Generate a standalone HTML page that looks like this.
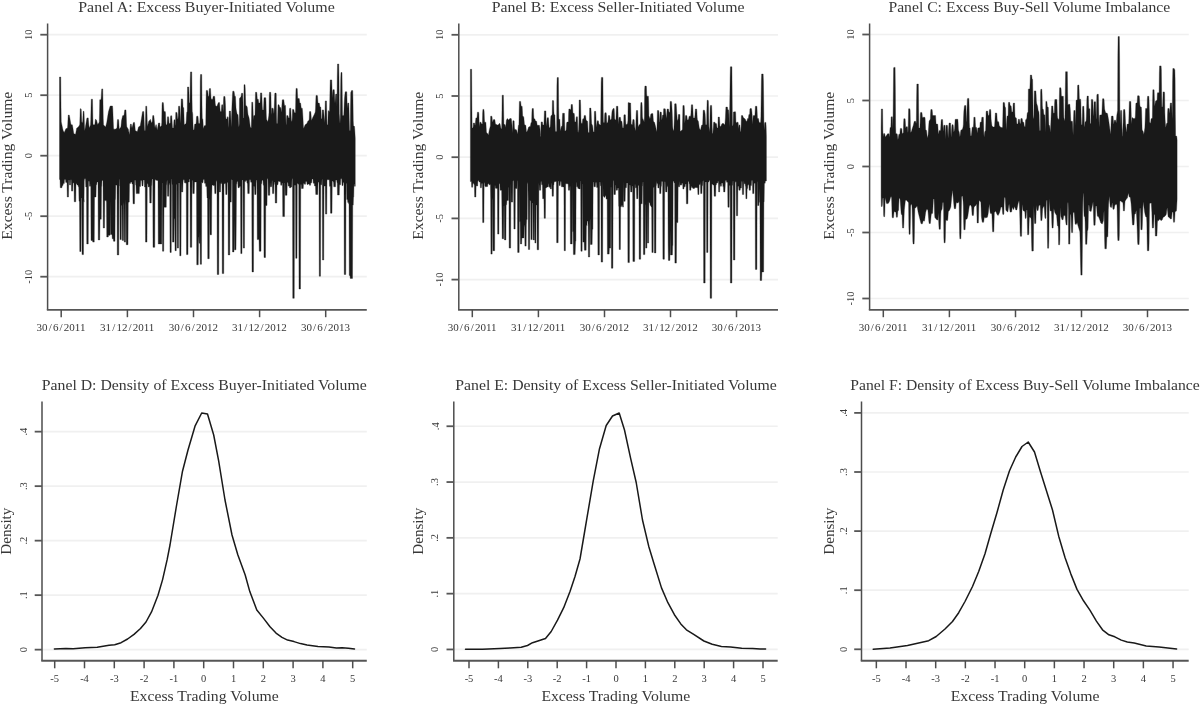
<!DOCTYPE html>
<html><head><meta charset="utf-8"><title>Excess trading volume panels</title>
<style>
html,body{margin:0;padding:0;background:#fff;}
svg{display:block;font-family:"Liberation Serif",serif;}
</style></head><body>
<svg width="1200" height="705" viewBox="0 0 1200 705">
<rect width="1200" height="705" fill="#fff"/>
<line x1="47.6" x2="366.8" y1="34.70" y2="34.70" stroke="#f0f0f0" stroke-width="1.7"/>
<line x1="47.6" x2="366.8" y1="95.20" y2="95.20" stroke="#f0f0f0" stroke-width="1.7"/>
<line x1="47.6" x2="366.8" y1="155.70" y2="155.70" stroke="#f0f0f0" stroke-width="1.7"/>
<line x1="47.6" x2="366.8" y1="216.20" y2="216.20" stroke="#f0f0f0" stroke-width="1.7"/>
<line x1="47.6" x2="366.8" y1="276.70" y2="276.70" stroke="#f0f0f0" stroke-width="1.7"/>
<path d="M59.5,77 60.75,77 61,105.2 61.25,121.9 61.5,123.1 61.75,124.2 62,125.4 62.25,126.6 62.5,127.8 62.75,128.9 63,130.1 63.25,130.8 63.5,131.3 63.75,131.8 64,132.3 64.25,132.5 64.5,131.9 64.75,131.3 65,130.8 65.25,130.2 65.5,129.6 65.75,129 66,128.6 66.25,128.6 66.5,128.5 66.75,128.4 67,128.3 67.25,128.2 67.5,128.1 67.75,124.5 68,118.8 68.25,115.1 69.25,115.1 69.5,116.2 69.75,117.6 70,119 70.25,120.5 70.5,121.9 70.75,123.3 71,124.7 72.25,124.7 72.5,125.6 72.75,127.1 73,128.6 73.25,130.2 73.5,131.7 73.75,133.2 74,133.8 74.25,133.9 74.5,134 74.75,134.1 75,134.2 75.25,134.3 75.5,134.3 75.75,133.2 76,131.8 76.25,130.4 76.5,129.1 76.75,128.1 77,127.9 77.25,127.7 77.5,127.6 77.75,127.4 78,127.2 78.25,127.1 78.5,126.8 78.75,126.3 79,125.9 79.25,125.5 79.5,125.1 79.75,124.3 80,115.6 80.25,108.8 81,108.8 81.25,109.7 81.5,115.7 81.75,121.7 82,122.4 82.5,122.4 82.75,121 83,114.8 83.25,111.3 84,111.3 84.25,118.3 84.5,127.2 84.75,130.7 85,129.2 85.25,127.7 85.5,126.2 85.75,124.7 86,123.2 86.25,121.7 86.5,120.2 86.75,118.7 87,117.9 88.25,117.9 88.5,120.7 88.75,123.5 89,126.3 89.25,127.9 89.5,127.3 89.75,126.7 90,126.2 90.25,125.6 90.5,125 90.75,119.6 91,108.3 91.25,99.2 92.5,99.2 92.75,113 93,124.7 94.75,124.7 95,123.1 95.25,120.6 95.5,119.1 95.75,119.4 96,119.6 96.25,119.9 96.5,120.1 96.75,121 97,122 97.25,123 97.5,124 97.75,124.6 98,124.2 98.25,123.7 98.5,123.3 98.75,122.9 99,122.5 99.25,122.1 99.5,113.8 99.75,99.7 101,99.7 101.25,96.5 101.5,91.7 101.75,88.9 102.75,88.9 103,102.7 103.25,118.5 103.5,124.9 103.75,125.1 104,125.4 104.25,125.6 104.5,125.9 104.75,126.1 105,126.4 105.25,126.6 105.5,126.9 105.75,126.4 106,125.4 106.25,124.4 106.5,123.4 106.75,122.4 107,120.9 107.25,119.3 107.5,117.7 107.75,116.1 108,114.5 108.25,113 108.5,111.5 108.75,110.7 109,109.8 109.25,109 109.5,108.2 109.75,107.3 110,106.5 110.25,106 112.5,106 112.75,108.4 113,114.8 113.25,121.2 113.5,127.6 113.75,129.2 115.25,129.2 115.5,129.1 115.75,128.9 116,128.8 116.25,128.6 116.5,128.4 116.75,128.3 117,127.5 117.25,122.8 117.5,119.6 118.5,119.6 118.75,120.9 119,125.2 119.25,129.2 119.5,128.9 119.75,128.6 120,128.2 120.25,127.9 120.5,127.6 120.75,127.2 121,126.3 121.25,123.6 121.5,120.8 121.75,119.6 122,118.5 122.25,117.4 122.5,116.3 122.75,115.6 124,115.6 124.25,113.6 124.5,111.5 124.75,109.9 126,109.9 126.25,115.7 126.5,123 126.75,126.6 127,127 127.25,127.5 127.5,127.9 127.75,128.3 128,128.7 128.25,129.1 128.5,130.1 128.75,131.4 129,132.6 129.25,133.9 129.5,134.4 129.75,131.4 130,128.4 130.25,125.5 130.5,124.1 131.25,124.1 131.5,125.5 131.75,126.9 132,127.9 132.25,127 132.5,126 132.75,125 133,124.1 133.25,123.1 133.5,122.4 134.5,122.4 134.75,124.4 135,127.1 135.25,129.8 135.5,131 135.75,131.1 136,131.1 136.25,131.2 136.5,131.3 136.75,131.3 137,131.4 137.25,131.5 137.5,131.1 137.75,130.1 138,129.1 138.25,128.1 138.5,127.1 138.75,126.8 139,126.7 139.25,126.5 139.5,126.3 139.75,126.2 140,126 140.25,125.8 140.5,124.3 140.75,122.8 141,121.3 141.25,119.8 141.5,118.2 141.75,116.6 142,115 142.25,113.3 142.5,111.7 142.75,111.6 143.75,111.6 144,115.9 144.25,124.2 144.5,130.4 145.25,130.4 145.5,119.5 145.75,106.2 146.75,106.2 147,112.7 147.25,121.9 147.5,126.5 147.75,125.5 148,124.4 148.25,123.4 148.5,122.3 148.75,121.3 149,121 149.25,120.7 149.5,120.4 149.75,120.1 150,119.8 150.25,119.5 150.5,119.4 150.75,120.4 151,121.4 151.25,122.4 152,122.4 152.25,121.3 152.5,118.3 152.75,115.6 153.75,115.6 154,117.2 154.25,119.9 154.5,122.7 154.75,125.4 155,128.1 155.25,127.2 155.5,126.3 155.75,125.5 156,124.6 156.25,124.8 156.5,126.2 156.75,127.5 157,128.9 157.25,130.3 157.5,128.8 157.75,127.2 158,125.6 158.25,124 158.5,123 159.75,123 160,127 160.25,126.8 160.5,126.6 160.75,126.5 161,126.3 161.25,126.1 161.5,126 161.75,122.6 162,105.5 162.25,102.6 163.25,102.6 163.5,104.1 163.75,108.1 164,111.6 165.25,111.6 165.5,113.1 165.75,120.3 166,124.7 167,124.7 167.25,121 167.5,116.8 168.5,116.8 168.75,118.6 169,122.4 169.25,123.6 170,123.6 170.25,122.8 170.5,117.1 170.75,115.8 171.75,115.8 172,119.4 172.25,123.9 172.5,128.1 173.5,128.1 173.75,123.4 174,119.8 174.75,119.8 175,120.2 175.25,125.4 175.5,124.6 175.75,112.4 177,112.4 177.25,115 177.5,117.9 177.75,119 178,119 178.25,115.7 178.5,106.3 178.75,106.2 179.75,106.2 180,110.9 180.25,119.6 180.5,123.5 180.75,115 181,106.6 181.25,98.9 182.5,98.9 182.75,100.2 183,106.6 183.25,107.7 183.75,107.7 184,115.8 184.25,124.7 184.5,124.5 184.75,124.4 185,124.2 185.25,124.1 185.5,123.9 185.75,123.8 186,123.6 186.25,120.7 186.5,115.7 186.75,112.2 187,112.2 187.25,111.3 187.5,87 188.75,87 189,93 189.25,101.9 189.5,103.1 190,103.1 190.25,79.7 190.5,71.9 191.75,71.9 192,97.7 192.25,112.2 192.5,112.2 192.75,114.5 193,123.8 193.25,129.4 193.5,129.7 193.75,130 194,130.3 194.25,128.2 194.5,125.4 194.75,124.1 196,124.1 196.25,121.4 196.5,117.1 196.75,116.2 198,116.2 198.25,119.1 198.5,122.4 198.75,123.6 199.75,123.6 200,117 200.25,81 200.5,74.5 201.75,74.5 202,104.1 202.25,118.6 202.5,118.7 202.75,118.9 203,121.1 203.25,126.8 203.5,128.7 203.75,127.8 204,126.8 204.25,125.9 204.5,125.7 204.75,125.6 205,125.6 205.25,125.5 205.5,125.4 205.75,124.8 206,105.6 206.25,90.4 207.5,90.4 207.75,91.2 208,93.8 208.25,96.3 209,96.3 209.25,89 209.5,88.6 210.5,88.6 210.75,93.1 211,97.7 211.25,99.2 212.75,99.2 213,97.3 213.25,96.3 214.5,96.3 214.75,96.8 215,100.2 215.25,103.5 215.5,105.5 215.75,105.7 216,105.9 216.25,106.1 216.5,106.3 216.75,106.5 217,106 217.25,105.4 217.5,104.8 217.75,104.2 218,103.6 218.25,103 218.5,102.6 219.5,102.6 219.75,105.1 220,109.1 220.25,111.6 221.25,111.6 221.5,107.5 221.75,104.8 222.75,104.8 223,109.2 223.25,112 223.5,99.7 223.75,96.5 225,96.5 225.25,100.6 225.5,105.7 225.75,115.7 226,119 226.75,119 227,118.8 227.25,117.2 227.5,116.8 228,116.8 228.25,117.7 228.5,125.2 228.75,127.7 229,119.2 229.25,111.1 230.5,111.1 230.75,114.8 231,121 231.25,127.3 231.5,120.3 231.75,111.3 232,104.6 232.25,99.4 232.5,94.2 232.75,91.2 234,91.2 234.25,92.4 234.5,94.6 234.75,96.3 235.25,96.3 235.5,96.7 235.75,102.2 236,107.7 236.25,109.8 236.5,111.1 236.75,112.3 237,113.6 237.25,114.5 238,114.5 238.25,117.8 238.5,123 238.75,126.4 239,126.4 239.25,123.7 239.5,98.5 239.75,98.2 240,97.9 240.25,97.5 240.5,97.2 240.75,96.9 241,96.5 241.25,95.5 241.5,93.3 242.75,93.3 243,103.4 243.25,117.9 243.75,117.9 244,84.7 245,84.7 245.25,89.1 245.5,98.2 245.75,105.4 246,105.6 246.25,105.8 246.5,106 246.75,106.2 247,106.4 247.25,107.3 247.5,109.8 247.75,112.3 248,114.6 248.25,115.3 248.5,116.1 248.75,116.8 249,117.6 249.25,119.1 249.5,121.1 249.75,123.1 250,125.1 250.25,127 250.5,127.2 250.75,127.5 251,127.7 251.25,128 251.5,118.5 251.75,102.2 252.75,102.2 253,107.4 253.25,116.1 253.5,120.3 253.75,115.7 254,115.6 255,115.6 255.25,102.2 255.5,92.3 256.75,92.3 257,95 257.25,98.8 257.5,99.2 258.25,99.2 258.5,100.9 258.75,103.1 260,103.1 260.25,99 260.5,92.9 261.75,92.9 262,98.4 262.25,105.9 262.5,109.9 263.5,109.9 263.75,103.7 264,97.7 265.75,97.7 266,102.3 266.25,114 266.5,119.3 266.75,119.8 267,120.3 267.25,120.7 267.5,121.2 267.75,121.7 268,120.8 268.25,119.1 268.5,117.5 268.75,115.9 269,112.3 269.25,96.1 269.5,92.3 270.75,92.3 271,97.8 271.25,112.4 271.5,114.7 271.75,108.2 273,108.2 273.25,108.8 273.5,110.8 273.75,112.7 274,113.8 274.25,107 274.5,100.3 274.75,93.6 275,93.1 276,93.1 276.25,93.8 276.5,116.1 276.75,123.6 277.25,123.6 277.5,123.2 277.75,112.9 278,104.8 279,104.8 279.25,105.5 279.5,106.5 279.75,107.2 280,107.3 280.25,107.4 280.5,107.5 280.75,107.7 281,109.8 281.25,112.3 281.5,111.1 281.75,107.4 282,103.6 282.25,99.9 282.5,99.7 283.75,99.7 284,101.2 284.25,103.7 284.5,105.4 285.5,105.4 285.75,113.4 286,123.4 286.25,125.2 286.5,119.7 286.75,115.6 287.75,115.6 288,115.9 288.25,116.9 288.5,117.9 289.25,117.9 289.5,109.2 289.75,108.2 290.75,108.2 291,113.5 291.25,119.2 291.5,121.3 292,121.3 292.25,117.2 292.5,109.4 293.75,109.4 294,110.4 294.25,111.9 294.5,112.8 295.5,112.8 295.75,97.7 296,88.4 297,88.4 297.25,88.6 297.5,94.2 297.75,98.6 299.25,98.6 299.5,100.7 299.75,103.1 300.5,103.1 300.75,104.1 301,106.3 301.25,108.2 302.25,108.2 302.5,110.5 302.75,114.2 303,118.5 303.25,123.7 303.5,128.6 303.75,128.1 304,127.5 304.25,126.9 304.5,126.3 304.75,125.7 305,125.1 305.25,124.7 305.5,124.5 305.75,124.3 306,124.2 306.25,124 306.5,123.8 306.75,123.7 307,123.3 307.25,122.7 307.5,122 307.75,121.4 308,120.8 308.25,120.7 309,120.7 309.25,118.3 309.5,111.7 309.75,111.6 310.75,111.6 311,113.8 311.25,117.8 311.5,120.6 311.75,119.9 312,119.3 312.25,118.7 312.5,118.1 312.75,117.5 313,117 313.25,116.5 313.5,116 313.75,115.5 314,115 314.25,114.5 314.5,113.9 314.75,113.3 315,112.7 315.25,112 315.5,108.9 315.75,101.7 316,95.4 317.25,95.4 317.5,96.1 317.75,99.5 318,102.9 318.25,103.1 319.25,103.1 319.5,104 319.75,105.8 320,107.1 320.75,107.1 321,111 321.25,117.6 321.5,119 321.75,119 322,118.5 322.25,109.9 323.5,109.9 323.75,112 324,115 324.25,117.8 324.5,120.3 324.75,122.8 325,111.8 325.25,100.9 326.5,100.9 326.75,112.6 327,124.7 327.75,124.7 328,117.7 328.25,110.6 328.5,110.8 328.75,111 329,111.2 329.25,111.4 329.5,111.6 329.75,102.8 330,88.8 330.25,79.9 331.75,79.9 332,87.5 332.25,98 332.5,94.7 332.75,91.5 333,89.7 334.25,89.7 334.5,93.4 334.75,99.8 335,103.2 335.25,99.4 335.5,95.7 335.75,94.1 336.75,94.1 337,107 337.25,77.3 337.5,64 338.75,64 339,78.6 339.25,113.5 339.5,116.9 339.75,120.4 340,123.8 340.25,117.8 340.5,98.2 340.75,78.6 341,72.5 342,72.5 342.25,94.4 342.5,115.6 343.75,115.6 344,109.5 344.25,102.5 344.5,98.2 344.75,95.7 345,93.2 345.25,91.8 346.75,91.8 347,99.6 347.25,108.2 347.5,105.7 347.75,103.2 348,103.1 348.75,103.1 349,108.5 349.25,120.5 349.5,130.4 350.25,130.4 350.5,107.8 350.75,92.5 351,91.9 351.25,91.3 351.5,90.6 352.75,90.6 353,101.5 353.25,120.8 353.5,125.9 353.75,126 354,126.1 354.25,126.3 354.5,126.4 354.75,129.6 355,133.9 355.25,138.2 L355.25,186.3 354.5,186.3 354.25,183.9 354,183.9 353.75,197 353.5,197 353.25,205.1 352.75,205.1 352.5,278.4 350.25,278.4 350,275.4 349.25,275.4 349,203.9 348.75,203.9 348.5,202.5 347.75,202.5 347.5,199.5 346.75,199.5 346.5,183.5 346,183.5 345.75,274.5 344.25,274.5 344,182.4 343.25,182.4 343,185.6 342,185.6 341.75,178.8 340.75,178.8 340.5,184.8 339.5,184.8 339.25,195 337.5,195 337.25,182.8 337,182.8 336.75,180.1 335.75,180.1 335.5,186.8 333.75,186.8 333.5,181.9 333.25,181.9 333,181 332.25,181 332,213.2 330.5,213.2 330.25,186.3 329.5,186.3 329.25,179.7 328.25,179.7 328,179.8 327,179.8 326.75,214.1 325.5,214.1 325.25,186.1 324.5,186.1 324.25,186 324,186 323.75,260 322.5,260 322.25,179.3 322,179.3 321.75,184.8 320.75,184.8 320.5,276.2 319.25,276.2 319,182 318.25,182 318,184.1 317.75,194.5 315.75,194.5 315.5,186 314.5,186 314.25,183.2 313.25,183.2 313,178.9 312,178.9 311.75,182.8 311,182.8 310.75,183.4 310.5,185.3 309.5,185.3 309.25,183.9 308.25,183.9 308,184.4 307,184.4 306.75,181.4 305.75,181.4 305.5,184.3 304.5,184.3 304.25,183.5 303.5,183.5 303.25,188.5 301.5,188.5 301.25,184.5 300.75,184.5 300.5,289 299,289 298.75,184.3 298.25,184.3 298,183.4 297.25,183.4 297,258.3 295.75,258.3 295.5,185.2 294.5,185.2 294.25,298.3 292.75,298.3 292.5,178.7 292,178.7 291.75,186.9 291,186.9 290.75,187.7 289.5,187.7 289.25,186.1 288.25,186.1 288,182.4 287.25,182.4 287,195.3 285.25,195.3 285,183.1 284.75,183.1 284.5,216.6 282.75,216.6 282.5,182.9 282,182.9 281.75,185.2 280.75,185.2 280.5,181.8 279.5,181.8 279.25,181.3 278.25,181.3 278,184.7 277,184.7 276.75,203 275.25,203 275,182.1 274.5,182.1 274.25,184.4 274,184.4 273.75,193.6 272.5,193.6 272.25,180.7 272,180.7 271.75,185.9 271.5,186.8 270.25,186.8 270,182.2 269.75,195.3 268.25,195.3 268,178.8 267.25,178.8 267,205.5 265.75,205.5 265.5,257.5 264,257.5 263.75,185.2 263.25,185.2 263,180.2 262,180.2 261.75,183.7 261.25,183.7 261,251.2 259.25,251.2 259,239.6 257.25,239.6 257,183.2 256.75,179.9 256.25,179.9 256,194.5 254.75,194.5 254.5,187.2 254.25,186.2 253.75,186.2 253.5,271.9 252,271.9 251.75,182.2 250.75,182.2 250.5,179.8 249.5,179.8 249.25,193.6 247.75,193.6 247.5,183.2 247,183.2 246.75,180.6 245.75,180.6 245.5,181.6 244.75,181.6 244.5,248.1 243.25,248.1 243,179.9 242.25,179.9 242,253.6 240.75,253.6 240.5,186.6 239.5,186.6 239.25,187.7 238,187.7 237.75,181.5 237,181.5 236.75,184.3 236.5,184.3 236.25,221 236,249.8 234.5,249.8 234.25,217.7 234,251.9 232.5,251.9 232.25,180.1 232,180.1 231.75,179.4 231.5,179.4 231.25,202.1 230,202.1 229.75,254.9 228.25,254.9 228,182.4 227.25,182.4 227,194.5 225.75,194.5 225.5,183.6 224.5,183.6 224.25,183.9 224,183.9 223.75,273.6 222.25,273.6 222,181.4 221.75,183.5 220.75,183.5 220.5,191.9 219.25,191.9 219,181.6 218.75,274.5 217.25,274.5 217,182.8 216.75,180.8 216.25,180.8 216,193.6 214.75,193.6 214.5,185.6 213.25,185.6 213,185 212,185 211.75,196.2 211.5,234.8 210,234.8 209.75,199.5 209.5,199.5 209.25,258.7 207.75,258.7 207.5,197.9 207,197.9 206.75,186.5 205.75,186.5 205.5,183.3 204.5,183.3 204.25,179.5 203.25,179.5 203,182.8 202,182.8 201.75,181.6 201.5,264.3 200.25,264.3 200,231 199.75,243.2 199,243.2 198.75,237.3 198.5,237.3 198.25,264.8 196.75,264.8 196.5,181.9 195.75,181.9 195.5,182 194.5,182 194.25,193.6 192.75,193.6 192.5,180.4 192,180.4 191.75,247.3 190.25,247.3 190,178.9 189.5,178.9 189.25,182 188.25,182 188,254.6 186.5,254.6 186.25,183.2 185.75,183.2 185.5,182.8 184.5,182.8 184.25,179.8 183.25,179.8 183,182.9 182.75,191.9 181.5,191.9 181.25,180.4 181,255.8 179.75,255.8 179.5,183.4 179.25,183.1 178.75,183.1 178.5,248.1 177.25,248.1 177,184.4 176.5,184.4 176.25,250.7 175,250.7 174.75,218.8 174.25,218.8 174,242.1 172.5,242.1 172.25,184.4 172,184.4 171.75,179.1 171.5,179.1 171.25,252.4 170,252.4 169.75,184.7 169.5,184.7 169.25,183.3 169,183.3 168.75,196.2 167.5,196.2 167.25,180.5 167,180.5 166.75,184.7 166.5,184.7 166.25,207.2 164,207.2 163.75,251.2 162.5,251.2 162.25,182.9 162,182.9 161.75,243.9 158.25,243.9 158,180.5 157,180.5 156.75,180.3 155.75,180.3 155.5,179.4 155,179.4 154.75,247.3 153,247.3 152.75,179.1 152,179.1 151.75,185.4 151.5,185.4 151.25,203 149.75,203 149.5,185.4 149.25,186.9 148.25,186.9 148,183.8 147.25,183.8 147,242.1 145.5,242.1 145.25,186.9 144.5,186.9 144.25,180.1 143.25,180.1 143,185.9 142,185.9 141.75,180.4 140.75,180.4 140.5,186.5 139.5,186.5 139.25,193.6 136.25,193.6 136,185 135.75,185 135.5,180.2 134.75,180.2 134.5,203.8 133,203.8 132.75,183.9 132,183.9 131.75,182.1 130.75,182.1 130.5,183.4 129.5,183.4 129.25,202.1 128.5,202.1 128.25,203.8 128,244.7 126.25,244.7 126,199.2 125.75,205.5 125.5,242.1 124.25,242.1 124,205.2 123.75,202.2 123.5,240.4 122.25,240.4 122,205.2 121.75,205.5 121.5,205.5 121.25,239.6 120,239.6 119.75,185.9 119.5,185.9 119.25,179.6 119,179.6 118.75,254.9 117.25,254.9 117,186.1 116.75,185.1 115.75,185.1 115.5,198.7 115.25,200.4 115,241.3 113.5,241.3 113.25,238.7 112.25,238.7 112,234.5 110.5,234.5 110.25,199.9 110,235.3 108.5,235.3 108.25,237 106.75,237 106.5,202.5 106.25,200.4 104.75,200.4 104.5,228 103.25,228 103,180.4 102,180.4 101.75,186.6 101.5,186.6 101.25,219.2 100,219.2 99.75,239.9 98.25,239.9 98,181.9 97,181.9 96.75,184.7 96.25,184.7 96,197 94.5,197 94.25,242.1 92.75,242.1 92.5,240.4 91,240.4 90.75,183.6 90.5,186.2 89.5,186.2 89.25,181.3 88.5,181.3 88.25,243.9 86.75,243.9 86.5,186.9 85.75,186.9 85.5,178.7 84.5,178.7 84.25,181.2 84,202.1 83.75,199.3 83.5,254.6 82,254.6 81.75,197.9 81.25,197.9 81,251.5 79.75,251.5 79.5,201.2 79,201.2 78.75,186.8 78.25,186.8 78,184.9 77,184.9 76.75,183.7 76,183.7 75.75,201.8 74.25,201.8 74,183.1 73.25,183.1 73,182 72.75,191.1 71.5,191.1 71.25,179.7 70.75,179.7 70.5,184.9 69.5,184.9 69.25,180 68.75,180 68.5,197 67.25,197 67,182.7 66.75,182.4 65.75,182.4 65.5,179.5 64.5,179.5 64.25,183.6 63.25,183.6 63,185.5 62.25,185.5 62,187.7 60.25,187.7 60,179.4 59.5,179.4Z" fill="#191919" stroke="#191919" stroke-width="0.35" stroke-linejoin="miter"/>
<path d="M47.6 23.6 V309.9" fill="none" stroke="#4d4d4d" stroke-width="1.5"/>
<path d="M46.85 309.9 H366.8" fill="none" stroke="#565656" stroke-width="1.9"/>
<line x1="40.300000000000004" x2="47.6" y1="34.70" y2="34.70" stroke="#565656" stroke-width="1.8"/>
<text x="32.3" y="34.7" font-size="10.5" text-anchor="middle" fill="#383838" transform="rotate(-90 32.3 34.7)">10</text>
<line x1="40.300000000000004" x2="47.6" y1="95.20" y2="95.20" stroke="#565656" stroke-width="1.8"/>
<text x="32.3" y="95.2" font-size="10.5" text-anchor="middle" fill="#383838" transform="rotate(-90 32.3 95.2)">5</text>
<line x1="40.300000000000004" x2="47.6" y1="155.70" y2="155.70" stroke="#565656" stroke-width="1.8"/>
<text x="32.3" y="155.7" font-size="10.5" text-anchor="middle" fill="#383838" transform="rotate(-90 32.3 155.7)">0</text>
<line x1="40.300000000000004" x2="47.6" y1="216.20" y2="216.20" stroke="#565656" stroke-width="1.8"/>
<text x="32.3" y="216.2" font-size="10.5" text-anchor="middle" fill="#383838" transform="rotate(-90 32.3 216.2)">-5</text>
<line x1="40.300000000000004" x2="47.6" y1="276.70" y2="276.70" stroke="#565656" stroke-width="1.8"/>
<text x="32.3" y="276.7" font-size="10.5" text-anchor="middle" fill="#383838" transform="rotate(-90 32.3 276.7)">-10</text>
<line x1="61.2" x2="61.2" y1="309.9" y2="317.2" stroke="#4d4d4d" stroke-width="1.5"/>
<text x="61.0" y="331.3" font-size="11" text-anchor="middle" fill="#383838">30<tspan dx="1.15">/</tspan><tspan dx="1.15">6</tspan><tspan dx="1.15">/</tspan><tspan dx="1.15">2011</tspan></text>
<line x1="127.4" x2="127.4" y1="309.9" y2="317.2" stroke="#4d4d4d" stroke-width="1.5"/>
<text x="127.2" y="331.3" font-size="11" text-anchor="middle" fill="#383838">31<tspan dx="1.15">/</tspan><tspan dx="1.15">12</tspan><tspan dx="1.15">/</tspan><tspan dx="1.15">2011</tspan></text>
<line x1="193.5" x2="193.5" y1="309.9" y2="317.2" stroke="#4d4d4d" stroke-width="1.5"/>
<text x="193.3" y="331.3" font-size="11" text-anchor="middle" fill="#383838">30<tspan dx="1.15">/</tspan><tspan dx="1.15">6</tspan><tspan dx="1.15">/</tspan><tspan dx="1.15">2012</tspan></text>
<line x1="259.6" x2="259.6" y1="309.9" y2="317.2" stroke="#4d4d4d" stroke-width="1.5"/>
<text x="259.40000000000003" y="331.3" font-size="11" text-anchor="middle" fill="#383838">31<tspan dx="1.15">/</tspan><tspan dx="1.15">12</tspan><tspan dx="1.15">/</tspan><tspan dx="1.15">2012</tspan></text>
<line x1="325.7" x2="325.7" y1="309.9" y2="317.2" stroke="#4d4d4d" stroke-width="1.5"/>
<text x="325.5" y="331.3" font-size="11" text-anchor="middle" fill="#383838">30<tspan dx="1.15">/</tspan><tspan dx="1.15">6</tspan><tspan dx="1.15">/</tspan><tspan dx="1.15">2013</tspan></text>
<text x="206.5" y="11.7" font-size="14.5" text-anchor="middle" fill="#383838" textLength="256.5" lengthAdjust="spacingAndGlyphs">Panel A: Excess Buyer-Initiated Volume</text>
<text x="11.8" y="165.7" font-size="14.5" text-anchor="middle" fill="#383838" textLength="148" lengthAdjust="spacingAndGlyphs" transform="rotate(-90 11.8 165.7)">Excess Trading Volume</text>
<line x1="458.8" x2="778" y1="34.80" y2="34.80" stroke="#f0f0f0" stroke-width="1.7"/>
<line x1="458.8" x2="778" y1="96.00" y2="96.00" stroke="#f0f0f0" stroke-width="1.7"/>
<line x1="458.8" x2="778" y1="157.20" y2="157.20" stroke="#f0f0f0" stroke-width="1.7"/>
<line x1="458.8" x2="778" y1="218.40" y2="218.40" stroke="#f0f0f0" stroke-width="1.7"/>
<line x1="458.8" x2="778" y1="279.60" y2="279.60" stroke="#f0f0f0" stroke-width="1.7"/>
<path d="M470.4,69.3 471.65,69.3 471.9,105.4 472.15,128.1 472.9,128.1 473.15,126.7 473.4,123 474.4,123 474.65,123.6 474.9,124.9 475.15,125.3 475.4,122.8 475.65,120.3 475.9,117.9 476.9,117.9 477.15,115.8 477.4,112.2 478.65,112.2 478.9,114.2 479.15,123 479.4,127 479.65,124.4 479.9,122.2 480.9,122.2 481.15,122.7 481.4,123.6 481.65,124.1 482.4,124.1 482.65,112.7 482.9,109.4 483.9,109.4 484.15,111.8 484.4,118.9 484.65,122.2 485.65,122.2 485.9,122.6 486.15,127.2 486.4,131.8 486.65,132.8 486.9,133 487.15,133.2 487.4,133.4 487.65,133.6 487.9,134.1 488.15,134.8 488.4,135.3 488.65,133.8 488.9,132.2 489.15,130.7 489.4,129.4 489.65,128.5 489.9,127.7 490.15,126.8 490.4,125.9 490.65,116.2 491.9,116.2 492.15,118.1 492.4,121.6 492.65,121.9 492.9,121.2 493.15,120.5 493.4,119.8 493.65,119.6 494.65,119.6 494.9,120 495.15,122 495.4,124 495.65,124.2 495.9,124.3 496.15,124.4 496.4,124.5 496.65,124.6 496.9,124.7 497.15,124.8 497.4,125 497.65,125.1 497.9,125.2 498.15,125.1 498.4,124.7 498.65,124.3 498.9,124 499.15,123.6 499.9,123.6 500.15,124.5 500.4,125.8 500.65,127 500.9,128.2 501.15,128.5 501.4,128.8 501.65,129.1 501.9,116.3 502.15,95.2 503.4,95.2 503.65,110.2 503.9,124.2 504.15,124.3 504.4,124.4 504.65,124.5 504.9,124.6 505.15,124.7 505.4,126 505.65,127.5 505.9,125.9 506.15,122.4 506.4,120 506.65,119.7 506.9,119.3 507.15,118.9 507.4,118.5 507.65,118.8 507.9,119.1 508.15,119.5 508.4,119.9 508.65,120.1 508.9,119.8 509.15,119.4 509.4,119.1 509.65,118.8 509.9,118.5 511.15,118.5 511.4,119.3 511.65,121.6 511.9,123.9 512.15,128 512.4,133 512.65,127.8 512.9,120.7 513.9,120.7 514.15,120.9 514.4,127.2 514.65,129.3 514.9,129.4 515.15,129.4 515.4,129.5 515.65,129.6 515.9,129.6 516.15,129.7 516.4,129.8 516.65,130.3 516.9,131.3 517.15,132.3 517.4,133.3 517.65,134.3 517.9,131.2 518.15,127.8 518.4,125.3 518.9,125.3 519.15,112 519.4,101.4 520.65,101.4 520.9,103.9 521.15,106.3 522.15,106.3 522.4,110.6 522.65,116.1 522.9,116.3 523.15,116.4 523.4,116.6 523.65,116.7 523.9,118 524.15,120.9 524.4,123.9 524.65,124.8 524.9,124.9 525.15,125 525.4,125.1 525.65,125.2 525.9,126 526.15,128.7 526.4,131.4 526.65,132.3 526.9,131.8 527.15,131.2 527.4,130.7 527.65,130 527.9,129.3 528.15,128.5 528.4,127.8 528.65,127 528.9,126.9 529.15,126.8 529.4,126.7 529.65,126.6 529.9,126.6 530.15,126.5 530.4,126.2 530.65,124.7 530.9,123.2 531.15,122.7 531.4,122.3 531.65,122 531.9,112.3 532.15,108.6 533.4,108.6 533.65,114.7 533.9,118.5 534.15,118.6 534.4,118.8 534.65,118.9 534.9,119 535.15,119.9 535.4,120.7 535.65,120.9 535.9,121 536.15,121.1 536.4,121.2 536.65,121.5 536.9,123.3 537.15,125 537.4,125.3 539.4,125.3 539.65,126.7 539.9,128.6 540.15,130.7 540.4,136 540.65,137.6 540.9,127.6 541.15,121.9 542.4,121.9 542.65,123.7 542.9,125.2 543.15,125.1 543.4,125 543.65,124.9 543.9,124.7 544.15,118.4 544.4,110.9 545.9,110.9 546.15,122.2 546.4,126.6 546.65,123.7 546.9,120.8 547.15,117.9 547.4,117.7 548.4,117.7 548.65,119.8 548.9,124.4 549.15,128.1 549.4,127.8 549.65,127.6 549.9,127.3 550.15,127.1 550.4,123.9 550.65,119.1 550.9,116.1 551.15,115.8 551.4,115.4 551.65,115.1 551.9,114.8 552.15,114.5 552.4,100.6 553.4,100.6 553.65,100.9 553.9,111.2 554.15,114.7 554.65,114.7 554.9,115 555.15,124.3 555.4,131.5 556.65,131.5 556.9,86 557.15,77.6 558.4,77.6 558.65,106.8 558.9,119.3 559.65,119.3 559.9,119.6 560.15,126.4 560.4,131.2 560.65,130 560.9,128.7 561.15,127.5 561.4,126.4 561.65,126.2 561.9,126 562.15,125.8 562.4,116.9 562.65,113.3 564.4,113.3 564.65,122.2 564.9,131.3 565.15,131.1 565.4,130.9 565.65,130.7 565.9,130.5 566.15,130.1 566.4,126.5 566.65,122.9 566.9,122.2 567.15,122.1 567.4,122.1 567.65,122 567.9,122 568.15,121.9 568.4,121.8 568.65,112.4 568.9,109 569.9,109 570.15,109.4 570.9,109.4 571.15,104.5 572.4,104.5 572.65,107.5 572.9,112.4 573.15,113.3 574.15,113.3 574.4,115 574.65,119.7 574.9,121.9 575.9,121.9 576.15,118.1 576.4,116.8 577.4,116.8 577.65,122.7 577.9,132.1 578.15,132.5 578.4,130.9 578.65,129.4 578.9,122.3 579.15,100 580.4,100 580.65,104.7 580.9,117.4 581.15,123.1 581.4,123.2 581.65,123.3 581.9,123.4 582.15,123.5 582.4,122.1 582.65,119.5 582.9,118.8 583.65,118.8 583.9,118.3 584.15,115.8 584.4,115.4 585.4,115.4 585.65,116.2 585.9,118.3 586.15,120.2 586.4,120.4 586.65,120.6 586.9,120.8 587.15,121 587.4,121.1 587.65,122.4 587.9,127.4 588.15,132.4 588.4,132.6 589.15,132.6 589.4,121.4 589.65,108.1 590.9,108.1 591.15,112.2 591.4,119 591.65,123.7 591.9,124.2 592.15,124.7 592.4,125.2 592.65,125.7 592.9,128 593.15,130.8 593.4,132.1 594.15,132.1 594.4,111.7 594.65,111.3 595.65,111.3 595.9,115.3 596.15,122.7 596.4,127.6 596.65,125.5 596.9,123.5 597.15,121.5 597.4,120.7 598.15,120.7 598.4,120.9 598.65,122.4 598.9,123.9 599.15,124.3 599.4,124.4 599.65,124.6 599.9,124.8 600.15,124.9 600.4,125.1 600.65,125 600.9,103.9 601.15,82.8 601.4,77.4 602.9,77.4 603.15,108.2 603.4,122.4 604.15,122.4 604.4,122.2 604.65,115.1 604.9,112.8 606.15,112.8 606.4,114.6 606.65,120.6 606.9,123.4 607.15,123.1 607.4,122.7 607.65,122.4 607.9,122 608.15,119.6 608.4,115.6 609.65,115.6 609.9,117.3 610.15,119.8 610.4,120 610.65,119.7 610.9,119.5 611.15,119.3 611.4,119.1 611.65,115.9 611.9,112.4 612.15,110.7 612.4,110.2 612.65,109.6 612.9,109.1 613.15,108.6 614.15,108.6 614.4,112.6 614.65,119.1 614.9,119.3 615.15,119.5 615.4,119.7 615.65,119.9 615.9,120.1 616.15,112.9 616.4,106.3 617.9,106.3 618.15,116.4 618.4,124.2 618.65,121.5 618.9,118.8 619.15,117.3 620.4,117.3 620.65,118.9 620.9,121.3 621.9,121.3 622.15,123.3 622.4,126.3 622.65,128.1 623.4,128.1 623.65,125.2 623.9,115.3 624.15,114.7 625.15,114.7 625.4,114.9 625.65,120.4 625.9,124.7 626.15,124.6 626.4,124.5 626.65,124.4 626.9,124.3 627.15,124.2 627.4,123.7 627.65,122.5 627.9,120.4 628.15,102.6 628.4,102.6 628.65,102.7 628.9,102.7 629.15,102.8 629.4,102.8 629.65,102.9 629.9,103 630.15,103 630.4,103.1 630.65,103.1 630.9,113.5 631.15,123.7 631.4,124.1 631.65,124.4 631.9,124.8 632.15,125.2 632.4,123.6 632.65,121.5 632.9,119.6 633.9,119.6 634.15,119.8 634.4,123.1 634.65,126.3 634.9,128 635.15,129.2 635.4,130.5 635.65,130.2 635.9,122.5 636.15,114.8 636.4,110.5 637.65,110.5 637.9,117.1 638.15,126.9 638.4,126.4 638.65,125.9 638.9,125.4 639.15,124.9 639.4,124.6 639.65,124.5 639.9,124.4 640.15,124.2 640.4,122.5 640.65,106.7 640.9,102.6 641.9,102.6 642.15,105.8 642.4,117.1 642.65,118.4 642.9,118.9 643.15,119.4 643.4,119.9 643.65,120.4 643.9,121.2 644.15,121.9 644.4,116.8 644.65,90.1 644.9,86.1 646.15,86.1 646.4,86.4 646.65,93.9 646.9,96.3 648.4,96.3 648.65,102.2 648.9,115.7 649.15,116.4 649.4,117.2 649.65,117.9 649.9,118.7 650.15,118.2 650.4,116.6 650.65,115 650.9,113.9 651.15,113.8 651.4,113.8 651.65,113.7 651.9,113.6 652.15,113.5 652.4,113.5 652.65,113.4 652.9,113.9 653.15,117.4 653.4,120.9 653.65,121.5 653.9,121.8 654.15,122 654.4,122.3 654.65,122.8 654.9,123.8 655.15,124.8 655.4,125.8 655.65,126.8 655.9,128 656.15,129.2 656.4,130.5 656.65,131.7 656.9,130 657.15,120.3 657.4,110.5 658.65,110.5 658.9,111.5 659.15,121.9 659.4,121.8 659.65,117.8 659.9,113.8 660.15,112 661.15,112 661.4,112.7 661.65,119.5 661.9,119.8 662.15,117.9 662.4,115.9 662.65,115.1 663.4,115.1 663.65,108.8 665.15,108.8 665.4,109.3 665.65,111.8 665.9,114.3 666.15,116.4 666.4,118.4 666.65,116.1 666.9,111.7 667.15,109 668.4,109 668.65,109.9 668.9,111.7 669.15,112.2 669.65,112.2 669.9,111.6 670.15,101.4 671.4,101.4 671.65,102.5 671.9,106.7 672.15,111 672.4,118.4 672.65,125.9 672.9,128.6 673.15,129.4 673.4,130.1 673.65,130.9 673.9,130.3 674.15,122.8 674.4,115.3 674.65,103.9 674.9,103.7 676.15,103.7 676.4,106.6 676.65,111.3 676.9,115.1 677.15,118.6 677.4,120.2 677.9,120.2 678.15,118.6 678.4,114.5 679.9,114.5 680.15,131.4 680.4,131.2 680.65,131.1 680.9,130.9 681.15,130.7 681.4,130.6 681.65,130.4 681.9,130.1 682.15,129.7 682.4,129.4 682.65,118.6 682.9,105.6 684.15,105.6 684.4,109.4 684.65,120.2 684.9,123.3 685.15,119.7 685.4,116.1 685.65,115.4 686.65,115.4 686.9,116.1 687.15,118.2 687.4,120.1 687.65,120 687.9,119.9 688.15,119.8 688.4,119.6 688.65,118.8 688.9,117.3 689.15,116.2 690.65,116.2 690.9,113.9 691.15,108.9 691.4,104.8 692.65,104.8 692.9,109.1 693.15,114.9 693.4,117.9 694.65,117.9 694.9,115.6 695.15,111.7 695.4,109 696.65,109 696.9,111.4 697.15,117.2 697.4,119.8 697.65,120.2 697.9,120.6 698.15,120.9 698.4,121.4 698.65,123.3 698.9,125.1 699.15,127 699.4,128.3 699.65,128.8 699.9,129.3 700.15,129.8 700.4,130.3 700.65,129.4 700.9,128.3 701.15,127.1 701.4,126 701.65,125.2 701.9,125.1 702.15,125 702.4,124.8 702.65,124.7 702.9,118.3 703.15,110.3 703.4,110.2 704.4,110.2 704.65,111 704.9,112.6 705.15,114.2 705.4,119 705.65,124.6 705.9,124.7 706.65,124.7 706.9,108.5 707.15,100.3 708.15,100.3 708.4,101.6 708.65,115.7 708.9,126.4 709.15,128.2 709.4,130.1 709.65,132 709.9,123 710.15,108 710.4,105.4 711.65,105.4 711.9,112.5 712.15,127.5 712.4,132.9 712.65,133.3 712.9,133.8 713.15,129.8 713.4,125.6 713.65,122.2 714.9,122.2 715.15,122.8 715.4,123.5 715.65,123.6 716.4,123.6 716.65,124.6 716.9,127.1 717.15,128.1 717.9,128.1 718.15,117.1 719.4,117.1 719.65,120.3 719.9,125.8 720.15,126.8 720.4,126.5 720.65,126.3 720.9,126 721.15,125.7 721.4,125.1 721.65,124.4 721.9,123.8 722.15,123.6 723.65,123.6 723.9,123.9 724.15,124.2 724.4,124.6 724.65,125 724.9,124.4 725.15,121.2 725.4,117.9 725.65,112 725.9,107.1 727.4,107.1 727.65,108.4 727.9,109.9 728.65,109.9 728.9,114.5 729.15,126.9 729.4,118.7 729.65,110.4 729.9,94.8 730.15,76.6 730.4,66.8 731.9,66.8 732.15,95.2 732.4,125.8 732.9,125.8 733.15,124.1 733.4,112 733.65,111.9 734.15,111.9 734.4,111.8 734.9,111.8 735.15,111.7 735.4,111.7 735.65,112.7 735.9,121.5 736.15,123.2 736.4,122.8 736.65,122.4 736.9,122.2 737.9,122.2 738.15,122.6 738.4,125.7 738.65,128.8 738.9,126.5 739.15,124.9 739.9,124.9 740.15,128.1 740.4,131.5 740.9,131.5 741.15,125.7 741.4,115.6 742.65,115.6 742.9,116.2 743.15,116.9 743.4,117.5 743.65,117.9 743.9,118.1 744.15,118.3 744.4,118.4 744.65,118.6 744.9,118.8 745.15,118.9 745.4,119.4 745.65,120.1 745.9,120.8 746.15,121.3 746.9,121.3 747.15,120.4 747.4,119.1 747.65,118.5 748.4,118.5 748.65,116.1 748.9,114.5 749.65,114.5 749.9,109.1 750.15,108.6 751.4,108.6 751.65,109.8 751.9,111.9 752.15,114.8 752.4,119.8 752.65,124.6 752.9,120.6 753.15,116.6 753.4,115.6 754.9,115.6 755.15,110.8 755.4,106.3 756.9,106.3 757.15,111.4 757.4,118.1 757.65,118.5 758.4,118.5 758.65,119.2 758.9,120.9 759.15,122.4 760.65,122.4 760.9,116.5 761.15,98.7 761.4,81 761.65,74 763.15,74 763.4,80.6 763.65,99.9 763.9,123.6 764.15,130.3 764.4,126.6 764.65,122.8 764.9,122.4 765.9,122.4 766.15,126.7 766.4,136.4 L766.4,180.9 765.4,180.9 765.15,183.3 764.4,183.3 764.15,201.7 763.9,201.7 763.65,271.9 761.9,271.9 761.65,280.5 760.15,280.5 759.9,202.3 759.4,202.3 759.15,188.2 758.9,205.5 757.65,205.5 757.4,181.7 757.15,181.7 756.9,269.4 755.4,269.4 755.15,183.2 754.15,183.2 753.9,193.6 752.65,193.6 752.4,180.6 751.65,180.6 751.4,185.6 750.65,185.6 750.4,190.2 749.15,190.2 748.9,184.8 747.9,184.8 747.65,188.6 747.15,188.6 746.9,198.7 745.9,198.7 745.65,186.2 745.4,186.2 745.15,183.7 744.15,183.7 743.9,180.6 743.65,194.5 742.4,194.5 742.15,181.6 741.65,181.6 741.4,188 740.4,188 740.15,190.2 738.9,190.2 738.65,186.3 737.9,186.3 737.65,215.8 736.4,215.8 736.15,181.8 735.4,181.8 735.15,182.9 734.9,260 733.4,260 733.15,181.1 732.9,181.1 732.65,185.3 732.15,185.3 731.9,283 730.4,283 730.15,185.5 729.4,185.5 729.15,207.2 727.9,207.2 727.65,182.3 726.65,182.3 726.4,180.6 725.4,180.6 725.15,187.2 724.9,191.9 723.65,191.9 723.4,186.6 722.9,186.6 722.65,183.1 721.65,183.1 721.4,186.2 720.4,186.2 720.15,184 719.9,184 719.65,191.9 718.65,191.9 718.4,181.2 717.9,181.2 717.65,183 716.65,183 716.4,184.7 715.9,184.7 715.65,196.2 714.15,196.2 713.9,185.1 712.9,185.1 712.65,184.1 711.9,184.1 711.65,298.3 710.15,298.3 709.9,180.5 709.15,180.5 708.9,182 708.15,182 707.9,252.4 706.65,252.4 706.4,181.9 705.4,181.9 705.15,283 703.65,283 703.4,180.8 702.9,180.8 702.65,185.5 702.15,185.5 701.9,193.6 700.65,193.6 700.4,181.8 700.15,184.5 699.15,184.5 698.9,194.5 697.9,194.5 697.65,187.7 696.65,187.7 696.4,187.4 695.4,187.4 695.15,187.8 694.65,187.8 694.4,188.5 692.9,188.5 692.65,187.5 691.65,187.5 691.4,186.1 691.15,186.1 690.9,190.2 689.65,190.2 689.4,184 689.15,184 688.9,181.5 688.15,181.5 687.9,203.8 686.4,203.8 686.15,184.1 685.4,184.1 685.15,186.7 684.15,186.7 683.9,189 682.9,189 682.65,183.3 681.9,183.3 681.65,185.1 680.15,185.1 679.9,181 679.65,186.8 678.4,186.8 678.15,184 677.9,222.6 676.65,222.6 676.4,263.1 674.9,263.1 674.65,182.9 674.15,182.9 673.9,181.2 673.15,181.2 672.9,245.6 672.65,245.6 672.4,254.9 670.4,254.9 670.15,229.5 669.9,260.4 668.4,260.4 668.15,245 667.9,185 667.65,186.5 667.15,186.5 666.9,191.9 665.65,191.9 665.4,188.7 665.15,181.7 664.65,181.7 664.4,259.2 662.9,259.2 662.65,181.5 661.65,181.5 661.4,186.3 661.15,186.3 660.9,193.6 659.65,193.6 659.4,184.5 659.15,184.5 658.9,188 657.9,188 657.65,183.4 656.9,183.4 656.65,181 656.4,185.6 656.15,185.6 655.9,252.9 654.4,252.9 654.15,186.5 653.9,187.6 653.4,187.6 653.15,252.4 651.9,252.4 651.65,207.1 651.15,207.1 650.9,205.5 650.15,205.5 649.9,202.8 649.15,202.8 648.9,201.4 648.65,243 647.4,243 647.15,200.4 646.9,248.1 645.65,248.1 645.4,204.8 645.15,204.8 644.9,254.6 643.4,254.6 643.15,182.1 642.9,182.1 642.65,186 642.4,186 642.15,203.8 640.9,203.8 640.65,259.2 639.15,259.2 638.9,185.5 638.15,185.5 637.9,198.7 636.65,198.7 636.4,187.8 635.4,187.8 635.15,184.5 634.9,184.5 634.65,261.4 632.9,261.4 632.65,185.9 632.15,185.9 631.9,191.9 630.65,191.9 630.4,187.2 630.15,185 629.65,185 629.4,262.6 627.9,262.6 627.65,183.1 626.65,183.1 626.4,187.7 625.4,187.7 625.15,201.3 623.9,201.3 623.65,181 623.4,207.1 622.65,207.1 622.4,205.5 621.65,205.5 621.4,206.8 620.65,206.8 620.4,249.5 619.15,249.5 618.9,206.3 618.65,206.3 618.4,188.1 617.9,188.1 617.65,188.4 617.4,190.2 616.15,190.2 615.9,184.9 615.65,184.9 615.4,194.5 613.9,194.5 613.65,180.8 613.15,180.8 612.9,268.2 611.4,268.2 611.15,187.2 610.9,187.2 610.65,248.1 609.4,248.1 609.15,254.1 607.4,254.1 607.15,198.8 606.9,199.1 606.15,199.1 605.9,195.8 605.15,195.8 604.9,197.3 604.15,197.3 603.9,196.2 603.15,196.2 602.9,181 602.65,262.1 601.15,262.1 600.9,185.8 600.4,185.8 600.15,182 599.65,182 599.4,254.9 597.9,254.9 597.65,187.4 596.65,187.4 596.4,182.6 595.65,182.6 595.4,186.8 593.9,186.8 593.65,182 593.15,182 592.9,229.3 592.4,229.3 592.15,244.4 590.4,244.4 590.15,218.2 589.9,221.4 589.65,257 588.4,257 588.15,226 587.9,221 587.15,221 586.9,225.7 586.65,225 586.4,225 586.15,250.2 584.4,250.2 584.15,242.1 582.9,242.1 582.65,183.9 582.4,183.9 582.15,251.2 580.9,251.2 580.65,181 580.4,181 580.15,188.9 579.15,188.9 578.9,188.5 577.9,188.5 577.65,186.8 576.9,186.8 576.65,186.7 576.4,182.5 576.15,182.5 575.9,241.1 575.65,241.1 575.4,246.1 575.15,254.6 573.4,254.6 573.15,231.6 572.65,231.6 572.4,181.4 572.15,243.9 570.4,243.9 570.15,186.5 569.9,186.5 569.65,190.2 568.4,190.2 568.15,183.9 567.9,183.9 567.65,183.8 565.65,183.8 565.4,250.7 564.15,250.7 563.9,186.9 562.9,186.9 562.65,186.8 561.4,186.8 561.15,181.4 560.4,181.4 560.15,185.6 559.15,185.6 558.9,181 558.4,181 558.15,242.7 556.65,242.7 556.4,181.4 555.4,181.4 555.15,181.8 554.15,181.8 553.9,185 553.65,185 553.4,196.2 552.15,196.2 551.9,183.6 551.65,183.6 551.4,188.9 550.4,188.9 550.15,187.3 549.15,187.3 548.9,183.7 548.65,183.7 548.4,186.8 547.9,186.8 547.65,187 546.65,187 546.4,187.9 545.65,187.9 545.4,218.3 544.15,218.3 543.9,198.7 542.65,198.7 542.4,184.7 541.65,184.7 541.4,181.5 540.9,181.5 540.65,190.2 539.4,190.2 539.15,186 538.9,182.9 538.65,249.8 537.15,249.8 536.9,205 536.15,205 535.9,243 534.9,243 534.65,199.6 534.4,239.9 533.15,239.9 532.9,203.1 532.4,203.1 532.15,239.6 530.9,239.6 530.65,200.7 530.15,200.7 529.9,200 529.65,249.5 528.4,249.5 528.15,198.6 527.9,182.1 527.65,183.4 527.4,183.4 527.15,219.4 526.65,219.4 526.4,224.7 526.15,246.1 524.9,246.1 524.65,227.3 524.4,225.2 524.15,225.2 523.9,237.9 521.9,237.9 521.65,243.9 520.4,243.9 520.15,221.6 519.65,221.6 519.4,184.8 519.15,252.4 517.65,252.4 517.4,180.8 517.15,180.8 516.9,188.5 515.4,188.5 515.15,229 513.9,229 513.65,180.8 512.9,180.8 512.65,202.1 511.15,202.1 510.9,183 510.65,248.1 509.15,248.1 508.9,187.4 508.65,187.4 508.4,200.4 506.9,200.4 506.65,204.8 506.15,204.8 505.9,239.9 504.4,239.9 504.15,205.7 503.9,205.7 503.65,238.7 502.15,238.7 501.9,209 501.65,190.2 500.15,190.2 499.9,183.7 499.15,183.7 498.9,234.1 497.65,234.1 497.4,188.6 496.65,188.6 496.4,188.2 495.4,188.2 495.15,185.4 494.9,185.4 494.65,250.7 492.9,250.7 492.65,197.7 492.4,200.2 492.15,254.1 490.9,254.1 490.65,199.3 490.4,183.8 490.15,184.8 489.15,184.8 488.9,183.7 487.9,183.7 487.65,186.5 486.65,186.5 486.4,186.8 485.4,186.8 485.15,186 484.9,186 484.65,182.7 484.15,182.7 483.9,222.6 482.65,222.6 482.4,183.4 481.65,183.4 481.4,187.8 480.4,187.8 480.15,182 479.15,182 478.9,180.8 477.9,180.8 477.65,186 476.4,186 476.15,184.3 475.9,197 474.65,197 474.4,184.7 474.15,184.7 473.9,183.6 472.9,183.6 472.65,187.2 471.65,187.2 471.4,181.5 470.4,181.5Z" fill="#191919" stroke="#191919" stroke-width="0.35" stroke-linejoin="miter"/>
<path d="M458.8 23.6 V309.9" fill="none" stroke="#4d4d4d" stroke-width="1.5"/>
<path d="M458.05 309.9 H778" fill="none" stroke="#565656" stroke-width="1.9"/>
<line x1="451.5" x2="458.8" y1="34.80" y2="34.80" stroke="#565656" stroke-width="1.8"/>
<text x="443.0" y="34.8" font-size="10.5" text-anchor="middle" fill="#383838" transform="rotate(-90 443.0 34.8)">10</text>
<line x1="451.5" x2="458.8" y1="96.00" y2="96.00" stroke="#565656" stroke-width="1.8"/>
<text x="443.0" y="96.0" font-size="10.5" text-anchor="middle" fill="#383838" transform="rotate(-90 443.0 96.0)">5</text>
<line x1="451.5" x2="458.8" y1="157.20" y2="157.20" stroke="#565656" stroke-width="1.8"/>
<text x="443.0" y="157.2" font-size="10.5" text-anchor="middle" fill="#383838" transform="rotate(-90 443.0 157.2)">0</text>
<line x1="451.5" x2="458.8" y1="218.40" y2="218.40" stroke="#565656" stroke-width="1.8"/>
<text x="443.0" y="218.4" font-size="10.5" text-anchor="middle" fill="#383838" transform="rotate(-90 443.0 218.4)">-5</text>
<line x1="451.5" x2="458.8" y1="279.60" y2="279.60" stroke="#565656" stroke-width="1.8"/>
<text x="443.0" y="279.6" font-size="10.5" text-anchor="middle" fill="#383838" transform="rotate(-90 443.0 279.6)">-10</text>
<line x1="472.3" x2="472.3" y1="309.9" y2="317.2" stroke="#4d4d4d" stroke-width="1.5"/>
<text x="472.1" y="331.3" font-size="11" text-anchor="middle" fill="#383838">30<tspan dx="1.15">/</tspan><tspan dx="1.15">6</tspan><tspan dx="1.15">/</tspan><tspan dx="1.15">2011</tspan></text>
<line x1="538.4" x2="538.4" y1="309.9" y2="317.2" stroke="#4d4d4d" stroke-width="1.5"/>
<text x="538.1999999999999" y="331.3" font-size="11" text-anchor="middle" fill="#383838">31<tspan dx="1.15">/</tspan><tspan dx="1.15">12</tspan><tspan dx="1.15">/</tspan><tspan dx="1.15">2011</tspan></text>
<line x1="604.5" x2="604.5" y1="309.9" y2="317.2" stroke="#4d4d4d" stroke-width="1.5"/>
<text x="604.3" y="331.3" font-size="11" text-anchor="middle" fill="#383838">30<tspan dx="1.15">/</tspan><tspan dx="1.15">6</tspan><tspan dx="1.15">/</tspan><tspan dx="1.15">2012</tspan></text>
<line x1="670.5" x2="670.5" y1="309.9" y2="317.2" stroke="#4d4d4d" stroke-width="1.5"/>
<text x="670.3" y="331.3" font-size="11" text-anchor="middle" fill="#383838">31<tspan dx="1.15">/</tspan><tspan dx="1.15">12</tspan><tspan dx="1.15">/</tspan><tspan dx="1.15">2012</tspan></text>
<line x1="736.5" x2="736.5" y1="309.9" y2="317.2" stroke="#4d4d4d" stroke-width="1.5"/>
<text x="736.3" y="331.3" font-size="11" text-anchor="middle" fill="#383838">30<tspan dx="1.15">/</tspan><tspan dx="1.15">6</tspan><tspan dx="1.15">/</tspan><tspan dx="1.15">2013</tspan></text>
<text x="618.1" y="11.7" font-size="14.5" text-anchor="middle" fill="#383838" textLength="252.7" lengthAdjust="spacingAndGlyphs">Panel B: Excess Seller-Initiated Volume</text>
<text x="422.8" y="165.7" font-size="14.5" text-anchor="middle" fill="#383838" textLength="148" lengthAdjust="spacingAndGlyphs" transform="rotate(-90 422.8 165.7)">Excess Trading Volume</text>
<line x1="869.6" x2="1188.8" y1="34.50" y2="34.50" stroke="#f0f0f0" stroke-width="1.7"/>
<line x1="869.6" x2="1188.8" y1="100.50" y2="100.50" stroke="#f0f0f0" stroke-width="1.7"/>
<line x1="869.6" x2="1188.8" y1="166.50" y2="166.50" stroke="#f0f0f0" stroke-width="1.7"/>
<line x1="869.6" x2="1188.8" y1="232.50" y2="232.50" stroke="#f0f0f0" stroke-width="1.7"/>
<line x1="869.6" x2="1188.8" y1="298.50" y2="298.50" stroke="#f0f0f0" stroke-width="1.7"/>
<path d="M881.1,127.8 881.35,109 882.35,109 882.6,109.1 882.85,130.2 883.1,136.8 883.35,135.2 883.6,133.7 883.85,133.6 884.6,133.6 884.85,134.2 885.1,135.8 885.35,137.1 885.6,136.8 885.85,136.4 886.1,136 886.35,135.6 886.6,135.3 886.85,134.9 887.1,134.5 887.35,134.1 887.6,133.8 888.85,133.8 889.1,134.1 889.35,136.6 889.6,136.5 889.85,130.6 890.1,127.5 890.85,127.5 891.1,117.3 891.35,116.8 892.35,116.8 892.6,120.8 892.85,129 893.1,115.4 893.35,91.8 893.6,68.3 893.85,67.4 895.1,67.4 895.35,89.5 895.6,126.1 895.85,133.8 897.1,133.8 897.35,134.8 897.6,137.1 897.85,139.4 898.1,138.9 898.35,137.4 898.6,135.8 898.85,134.3 899.85,134.3 900.1,130.9 900.35,128.4 901.6,128.4 901.85,129.2 902.1,132.2 902.35,133.7 902.6,133.4 902.85,133.2 903.1,132.9 903.35,132.7 903.6,123.3 903.85,118.8 905.1,118.8 905.35,122.1 905.6,127.3 905.85,127.7 906.1,127.2 906.35,126.7 907.35,126.7 907.6,128.8 907.85,132.4 908.1,131.5 908.35,120 908.6,108.8 909.85,108.8 910.1,110.5 910.35,123.6 910.6,132.5 910.85,132.2 911.1,131.9 911.35,131.6 911.6,130.9 911.85,130 912.1,129.1 912.35,128.3 912.6,127.5 912.85,126.8 913.1,126 913.35,125.3 913.6,124.2 913.85,123.1 914.1,122 914.35,121.3 915.6,121.3 915.85,122.4 916.1,123.6 916.35,121.2 916.6,98.8 916.85,84.1 918.35,84.1 918.6,107.9 918.85,128.1 919.85,128.1 920.1,122.7 920.35,114.1 920.6,112.4 921.85,112.4 922.1,113.8 922.35,116.8 922.6,117.8 922.85,117.6 923.1,117.5 923.35,117.3 924.85,117.3 925.1,118.4 925.35,123.9 925.6,129.4 925.85,130 926.1,130.1 926.35,130.3 926.6,131.1 926.85,133.6 927.1,136.1 927.35,138.2 927.6,137.1 927.85,136.1 928.1,135 928.35,131.4 928.6,127.7 928.85,123.9 929.1,121.2 929.35,120.8 929.6,120.3 929.85,119.9 930.1,119.5 930.35,119.1 930.6,113.1 930.85,109.6 932.1,109.6 932.35,111.6 932.6,114.9 932.85,115.6 935.6,115.6 935.85,120.2 936.1,124.1 937.6,124.1 937.85,125.5 938.1,129.5 938.35,133.4 938.6,134 938.85,132.6 939.1,131.2 939.35,130.4 940.6,130.4 940.85,125.7 941.1,120.9 941.35,119.6 942.6,119.6 942.85,125 943.1,131.5 943.35,129.2 943.6,126.9 943.85,125.3 945.1,125.3 945.35,131.8 945.6,139.3 945.85,131.5 946.1,125.3 947.35,125.3 947.6,127 947.85,132.7 948.1,138.2 948.35,134 948.6,129.8 948.85,125.5 949.1,123 950.35,123 950.6,123.3 950.85,131.8 951.1,137.5 951.35,133.7 951.6,130 951.85,126.2 952.1,124.7 953.1,124.7 953.35,126.8 953.6,130.3 953.85,132.3 954.1,131.2 954.35,130.2 954.6,128.6 954.85,124.2 955.1,119.8 955.35,119.3 957.85,119.3 958.1,122.6 958.35,129.1 958.6,131.1 958.85,131.3 959.1,131.5 959.35,133.3 959.6,135.1 959.85,136.8 960.1,135.7 960.35,133.8 960.6,131.9 960.85,130.3 961.1,130.2 961.35,130 961.6,129.8 961.85,129.7 962.1,129.5 962.35,129.3 962.6,128.8 962.85,127.8 963.1,126.7 963.35,124.4 963.6,116.9 963.85,111.3 964.1,108.9 964.35,106.5 964.6,105.6 965.85,105.6 966.1,112.2 966.35,121 966.6,122 966.85,114.5 967.1,107 967.35,99.5 967.6,98.4 968.85,98.4 969.1,106.3 969.35,122.5 969.6,127.9 970.1,127.9 970.35,132.1 970.6,136 970.85,135.8 971.1,135.7 971.35,135.5 971.6,133 971.85,130.4 972.1,127.8 972.35,127.2 973.35,127.2 973.6,123.7 973.85,117.3 975.1,117.3 975.35,122.6 975.6,127.2 975.85,127.3 976.1,127.4 976.35,127.4 976.6,127.5 976.85,129.2 977.1,132 977.35,132.9 977.6,130.4 977.85,128.1 978.1,128 978.35,128 978.6,127.9 978.85,127.8 979.1,127.8 979.35,127.7 979.6,127.6 979.85,127.6 980.1,122.4 980.35,122.3 980.6,122.2 980.85,122.1 981.1,122 981.35,121.9 981.6,119.5 981.85,117.3 983.35,117.3 983.6,124.5 983.85,133.8 984.1,137.2 984.35,135.1 984.6,132.9 984.85,131.5 985.1,131.3 985.35,131.1 985.6,131 985.85,123.3 986.1,112.4 986.35,111.1 987.6,111.1 987.85,113 988.1,115 988.35,115.5 988.6,115.4 988.85,115.2 989.1,114.7 989.35,110.7 989.6,109.6 990.6,109.6 990.85,111.6 991.1,118.9 991.35,121.4 991.6,123.3 991.85,125.3 992.1,126 992.35,126.3 992.6,126.5 992.85,126.8 993.1,127 994.35,127 994.6,125.8 994.85,121.8 995.1,117.3 995.35,113 996.6,113 996.85,113.9 997.1,118.5 997.35,121.3 997.6,121.4 997.85,121.5 998.1,121.6 998.35,121.7 998.6,121.8 998.85,122.7 999.1,124.5 999.35,125.9 999.6,126.1 999.85,126.4 1000.1,126.6 1000.35,126.9 1000.6,127.1 1000.85,127.4 1001.1,127.5 1002.6,127.5 1002.85,116.6 1003.1,102.6 1004.35,102.6 1004.6,103.4 1004.85,105.9 1005.1,107.2 1005.35,107.4 1005.6,107.6 1005.85,117.5 1006.1,130 1006.35,126.6 1006.6,122.7 1006.85,118.8 1007.1,116.1 1007.35,116 1007.6,115.9 1007.85,115.8 1008.1,115.6 1008.35,103.9 1008.6,102.3 1009.6,102.3 1009.85,103.3 1010.1,105.4 1010.35,105.5 1010.6,105.7 1010.85,105.8 1011.1,105.9 1011.35,107.5 1011.6,110.2 1011.85,112.2 1012.1,112.1 1012.35,111.9 1012.6,111.8 1012.85,111.7 1013.1,104.8 1013.35,103.1 1014.6,103.1 1014.85,112.7 1015.1,117.4 1015.35,117.5 1015.6,117.6 1015.85,117.7 1016.1,117.8 1016.35,118.2 1016.6,120.9 1016.85,123.7 1017.1,124.1 1017.85,124.1 1018.1,122.5 1018.35,119.3 1019.35,119.3 1019.6,120.2 1019.85,122.6 1020.1,123.6 1020.6,123.6 1020.85,118.7 1021.1,118.5 1022.1,118.5 1022.35,119.4 1022.6,121.3 1022.85,121.9 1023.1,122.1 1023.35,122.2 1023.6,122.3 1023.85,122.7 1024.1,124.9 1024.35,126.5 1024.6,126.6 1024.85,126.8 1025.1,126.9 1025.35,124.1 1025.6,120.1 1025.85,119.5 1026.1,119.4 1026.35,119.2 1026.6,119.1 1026.85,117.9 1027.1,114.4 1027.35,112.7 1027.6,112.5 1027.85,112.4 1028.1,112.2 1028.35,89.4 1028.6,88.9 1029.85,88.9 1030.1,82.6 1030.35,75.1 1031.6,75.1 1031.85,76.8 1032.1,79.3 1032.6,79.3 1032.85,94.4 1033.1,115 1033.35,117.9 1033.6,119.1 1033.85,117.1 1034.1,101 1034.35,90.9 1035.85,90.9 1036.1,94.5 1036.35,100.9 1036.6,103.2 1036.85,104 1037.1,104.8 1037.35,105.5 1037.6,106.3 1037.85,108 1038.1,110 1038.35,111.2 1038.6,111.3 1038.85,111.5 1039.1,114.8 1039.35,125.1 1039.6,130.4 1040.35,130.4 1040.6,91.6 1040.85,89.3 1041.85,89.3 1042.1,94.7 1042.35,105.4 1042.6,108.9 1042.85,109.1 1043.1,109.2 1043.35,109.5 1043.6,112.3 1043.85,114.5 1044.1,114.6 1044.35,114.8 1044.6,114.9 1044.85,115 1045.1,122.2 1045.35,132.5 1045.6,118.1 1045.85,101.4 1046.85,101.4 1047.1,103.6 1047.35,107.1 1048.1,107.1 1048.35,107.8 1048.6,117.5 1048.85,124.8 1049.1,125.1 1049.35,125.4 1049.6,125.7 1049.85,127.4 1050.1,129.9 1050.35,132.4 1050.6,127.8 1050.85,122.3 1051.1,116.7 1051.35,110.2 1051.6,106 1052.85,106 1053.1,109.7 1053.35,113.3 1053.6,113.2 1053.85,113.1 1054.1,112.9 1054.35,112.7 1054.6,102.9 1054.85,99.5 1056.85,99.5 1057.1,105.3 1057.35,115.4 1057.6,118.1 1057.85,118.4 1058.1,118.7 1058.35,119 1058.6,119.2 1058.85,119.4 1059.1,119.6 1059.35,97.6 1059.6,87.8 1060.85,87.8 1061.1,89.2 1061.35,95.5 1061.6,96.3 1063.35,96.3 1063.6,106.9 1063.85,117.6 1064.1,118.5 1064.35,119.4 1064.6,120.2 1064.85,121.1 1065.1,107 1065.35,88.8 1065.6,71.7 1067.35,71.7 1067.6,91.4 1067.85,105.2 1068.1,104.9 1068.35,104.5 1068.6,104.3 1069.85,104.3 1070.1,107.3 1070.35,111.1 1070.6,116.7 1070.85,121.3 1072.35,121.3 1072.6,123.7 1072.85,130.2 1073.1,135.2 1073.35,125.8 1073.6,116.4 1073.85,110.5 1075.1,110.5 1075.35,118.9 1075.6,125.4 1075.85,110.7 1076.1,100.3 1076.35,100.2 1076.6,100.1 1076.85,100 1077.1,99.8 1077.35,99.7 1077.6,86 1077.85,85 1078.85,85 1079.1,90 1079.35,99.2 1080.6,99.2 1080.85,102.3 1081.1,116.3 1081.35,124.7 1082.1,124.7 1082.35,116.9 1082.6,106.7 1082.85,106.3 1083.85,106.3 1084.1,112.7 1084.35,125.4 1084.6,127.4 1084.85,124.7 1085.1,121.9 1085.35,121.7 1085.6,121.6 1085.85,121.4 1086.1,121.3 1086.35,116.9 1086.6,109.2 1086.85,99.1 1087.1,96.1 1088.35,96.1 1088.6,103.6 1088.85,108.8 1089.85,108.8 1090.1,123.6 1090.85,123.6 1091.1,110.9 1091.35,99.4 1092.6,99.4 1092.85,100.7 1093.1,108.5 1093.35,116.4 1093.6,114.3 1093.85,107.5 1094.1,101.8 1095.6,101.8 1095.85,109.9 1096.1,118.7 1096.35,118.5 1096.6,106.8 1096.85,95 1097.1,94.3 1098.35,94.3 1098.6,103.8 1098.85,117.4 1099.1,127.2 1099.35,121.9 1099.6,116.6 1099.85,115 1101.1,115 1101.35,114.9 1101.6,114.6 1101.85,114.3 1102.1,108.2 1102.35,102 1102.6,98.7 1103.85,98.7 1104.1,99.9 1104.35,105.3 1104.6,109.1 1104.85,110 1105.1,110.9 1105.35,111.8 1105.6,112.7 1105.85,112.8 1106.1,112.9 1106.35,113 1106.6,113.1 1106.85,113.2 1107.1,113.3 1107.35,113.4 1107.6,114.2 1107.85,115.6 1108.1,117 1108.35,118.4 1108.6,119.8 1108.85,121.4 1109.1,123.3 1109.35,125.2 1109.6,127.1 1109.85,128.9 1110.1,130.8 1110.35,132.7 1110.6,134.4 1110.85,128.5 1111.1,122.6 1111.35,116.7 1111.6,116.1 1112.85,116.1 1113.1,116.2 1113.35,119.9 1113.6,123.5 1113.85,124.1 1114.1,122.1 1114.35,120.2 1115.6,120.2 1115.85,121.6 1116.1,123 1116.35,121.7 1116.6,118.3 1116.85,115 1117.1,113.5 1117.35,112 1117.6,110.5 1117.85,55.3 1118.1,36.6 1119.35,36.6 1119.6,58.9 1119.85,109.6 1120.1,125 1120.35,113.8 1120.6,110.4 1121.6,110.4 1121.85,121.2 1122.1,136.6 1122.35,135.8 1122.6,131.6 1122.85,127.4 1123.1,122.7 1123.35,111.4 1123.6,109.6 1124.85,109.6 1125.1,112.9 1125.35,118.6 1125.6,123.9 1125.85,126.4 1126.1,128.9 1126.35,131.4 1126.6,131.7 1126.85,128.2 1127.1,124.6 1127.35,124.1 1128.6,124.1 1128.85,118.5 1129.1,109.4 1129.35,101.5 1130.85,101.5 1131.1,109.8 1131.35,119.3 1131.6,124 1131.85,120.9 1132.1,117.7 1132.35,117.6 1132.6,117.8 1132.85,118 1133.1,118.2 1133.35,118.4 1133.6,118.6 1135.1,118.6 1135.35,116.1 1135.6,109.8 1135.85,103.6 1136.1,103 1137.1,103 1137.35,99.5 1137.6,95.8 1139.1,95.8 1139.35,96.6 1139.6,100.8 1139.85,105.1 1140.1,106.5 1140.35,106.7 1140.6,106.8 1140.85,106.9 1141.1,107 1141.35,107.2 1141.6,111.2 1141.85,120.3 1142.1,129.3 1142.35,130.3 1142.6,130.7 1142.85,131.1 1143.1,131.6 1143.35,132.6 1143.6,133.6 1143.85,134.4 1144.1,132.8 1144.35,131.2 1144.6,129.6 1144.85,128 1145.1,122.1 1145.35,114.5 1145.6,108.5 1147.1,108.5 1147.35,99 1147.6,96.3 1148.85,96.3 1149.1,101.3 1149.35,111.6 1149.6,121.9 1149.85,122.5 1150.1,122.9 1150.35,123.3 1150.6,123.1 1150.85,121.1 1151.1,119.1 1151.35,118.6 1151.6,118.5 1151.85,118.4 1152.1,118.3 1152.35,118.2 1152.6,101.1 1152.85,89.8 1154.1,89.8 1154.35,97.7 1154.6,106.4 1154.85,105 1155.1,103.5 1155.35,102.1 1155.6,101 1155.85,100.8 1156.1,100.7 1156.35,100.6 1156.6,100.5 1156.85,100.3 1157.1,100 1157.35,94 1157.6,92.7 1159.1,92.7 1159.35,73.1 1159.6,65.9 1161.1,65.9 1161.35,69.8 1161.6,91.9 1161.85,107.2 1162.1,107 1162.35,106.8 1162.6,106.5 1162.85,100 1163.1,91.9 1164.35,91.9 1164.6,93.3 1164.85,112.4 1165.1,119.1 1165.35,123.1 1165.6,127.1 1165.85,127.2 1166.1,125.7 1166.35,124.2 1166.6,123.5 1166.85,123.3 1167.1,123.1 1167.35,122.9 1167.6,113.2 1167.85,108.5 1169.1,108.5 1169.35,109.7 1169.6,113.2 1169.85,112 1170.1,105.6 1170.35,103 1171.6,103 1171.85,107.3 1172.1,119.1 1172.35,110.4 1172.6,80.2 1172.85,68.5 1174.1,68.5 1174.35,68.8 1174.6,69.4 1174.85,70.1 1175.1,79.4 1175.35,114.4 1175.6,136.1 1176.6,136.1 1176.85,137.3 1177.1,140 L1177.1,199.4 1176.85,204.1 1176.6,208.9 1176.35,211.1 1176.1,211.2 1175.85,211.3 1175.6,211.4 1175.35,211.5 1175.1,212.1 1174.85,216.9 1174.6,221.6 1174.35,222.3 1173.6,222.3 1173.35,220 1173.1,212.5 1172.85,212.1 1172.35,212.1 1172.1,212.9 1171.85,215.4 1171.6,217.9 1171.35,218.9 1170.6,218.9 1170.35,218.7 1170.1,218.5 1169.85,218.2 1169.6,218 1169.35,217.7 1169.1,217.5 1168.85,217.3 1168.6,217.1 1168.35,216.9 1168.1,216.7 1167.85,214.1 1167.6,211.4 1167.35,208.8 1167.1,207.7 1166.85,209.7 1166.6,211.8 1166.35,213.8 1166.1,214.7 1165.85,215 1165.6,215.4 1165.35,215.7 1165.1,215.9 1164.85,216.2 1164.6,216.4 1164.35,216.7 1164.1,216.8 1163.85,216.9 1163.6,217 1163.35,217.2 1163.1,217.5 1162.85,218.1 1162.6,218.8 1162.35,219.4 1162.1,220 1161.85,220.2 1161.6,220.3 1161.35,220.4 1161.1,220.6 1160.85,220.5 1160.6,220.1 1160.35,219.8 1160.1,219.4 1159.85,219 1159.6,219.3 1159.35,219.6 1159.1,220 1158.85,220.4 1158.6,220.6 1157.6,220.6 1157.35,223.1 1157.1,231.6 1156.85,236 1155.35,236 1155.1,225.4 1154.85,214.4 1154.35,214.4 1154.1,215.2 1153.85,221.2 1153.6,227.2 1153.35,228 1152.35,228 1152.1,223.4 1151.85,212.5 1151.6,208 1151.35,203.5 1151.1,202.7 1150.85,202.9 1150.6,203.1 1150.35,203.2 1150.1,203.3 1149.85,203.5 1149.6,203.6 1149.35,216.9 1149.1,242.8 1148.85,250.7 1147.35,250.7 1147.1,237.7 1146.85,222.9 1146.6,217.2 1146.35,217 1146.1,216.9 1145.85,216.8 1145.6,216.6 1145.35,215.5 1145.1,214.4 1144.85,213.3 1144.6,211.9 1144.35,210.1 1144.1,208.3 1143.85,206.6 1143.6,204.8 1143.35,203 1143.1,201.9 1142.85,208.8 1142.6,216.2 1142.35,224.9 1142.1,229.7 1141.1,229.7 1140.85,229.6 1140.6,213.8 1140.35,208.2 1139.85,208.2 1139.6,217.5 1139.35,237.5 1139.1,244.5 1137.85,244.5 1137.6,242.3 1137.35,234.8 1137.1,227.3 1136.85,221.1 1136.6,215.9 1136.35,210.7 1136.1,210.8 1135.85,211.9 1135.6,213 1135.35,213.9 1135.1,214 1134.85,214.2 1134.6,214.3 1134.35,217.8 1134.1,223.6 1133.85,225 1132.6,225 1132.35,223.2 1132.1,218.9 1131.85,214.6 1131.6,210.9 1131.35,207.3 1131.1,203.8 1130.85,201.7 1130.6,199.8 1130.35,197.8 1130.1,197.3 1129.85,197.2 1129.6,197 1129.35,196.9 1129.1,196.5 1128.85,195.3 1128.6,194 1128.35,192.9 1128.1,194.3 1127.85,195.7 1127.6,197.1 1127.35,198.1 1127.1,198.3 1126.85,198.6 1126.6,198.8 1126.35,199.1 1126.1,199.5 1125.85,199.9 1125.6,200.3 1125.35,200.7 1125.1,201.1 1124.85,203.7 1124.6,209 1124.35,211 1123.6,211 1123.35,210.6 1123.1,205.6 1122.85,202 1122.6,202.1 1122.35,202.3 1122.1,202.4 1121.85,202.2 1121.6,201.9 1121.35,201.5 1121.1,201.1 1120.85,200.8 1120.6,200.9 1120.35,201 1120.1,201.2 1119.85,201.3 1119.6,213.3 1119.35,234.9 1119.1,240.5 1117.85,240.5 1117.6,235.4 1117.35,222.1 1117.1,208.7 1116.85,204.2 1116.6,204.3 1116.35,204.4 1116.1,204.4 1115.85,204.5 1115.6,204.6 1115.35,204.7 1115.1,204.7 1114.85,205.4 1114.6,206.6 1114.35,207.9 1114.1,209.1 1113.85,209.3 1113.1,209.3 1112.85,208.4 1112.6,205.7 1112.35,203 1112.1,203.1 1111.85,205.2 1111.6,207.3 1111.35,207.5 1111.1,207.4 1110.85,207.3 1110.6,207.2 1110.35,207.1 1110.1,205.7 1109.85,202.6 1109.6,199.5 1109.35,196.3 1109.1,198.1 1108.85,201.3 1108.6,204.4 1108.35,209.5 1108.1,225.9 1107.85,236.8 1106.85,236.8 1106.6,243.8 1106.35,248.8 1104.85,248.8 1104.6,239.8 1104.35,225.3 1104.1,210.8 1103.85,213 1103.6,217.2 1103.35,220.8 1103.1,221.5 1102.85,222.3 1102.6,223 1102.35,223.8 1102.1,223.9 1101.85,223.7 1101.6,223.5 1101.35,223.4 1101.1,223.2 1100.85,223 1100.6,222.4 1100.35,221.6 1100.1,220.9 1099.85,220.1 1099.6,219.4 1099.35,218.8 1099.1,218.1 1098.85,217.5 1098.6,216.9 1098.35,216.6 1098.1,216.5 1097.85,216.4 1097.6,216.3 1097.35,216.1 1097.1,213.6 1096.85,209.9 1096.6,206.1 1096.35,205.9 1095.85,205.9 1095.6,209.1 1095.35,219.7 1095.1,225.2 1093.85,225.2 1093.6,219.1 1093.35,208.6 1093.1,201.7 1092.85,203 1092.6,204.2 1092.35,205.5 1092.1,206.7 1091.85,208 1091.6,209.2 1091.35,210.5 1091.1,211.5 1090.85,211.4 1090.6,211.3 1090.35,211.2 1090.1,211 1089.6,211 1089.35,207.9 1089.1,205.3 1088.6,205.3 1088.35,214.3 1088.1,228 1087.85,230.3 1087.6,230.3 1087.35,231.2 1087.1,238.8 1086.85,244.3 1085.6,244.3 1085.35,234.2 1085.1,222.3 1084.85,217.1 1084.6,216.8 1084.35,216.5 1084.1,216.2 1083.85,210 1083.6,197.5 1083.35,193.4 1083.1,193.4 1082.85,203.1 1082.6,215.3 1082.35,249 1082.1,275.1 1080.85,275.1 1080.6,265.9 1080.35,254 1080.1,242.1 1079.85,231.9 1079.6,231 1079.35,230.2 1079.1,229.4 1078.85,228.5 1078.6,227.7 1078.35,226.9 1078.1,226 1077.85,225.2 1077.6,224.3 1077.35,223.4 1077.1,222.5 1076.85,222.9 1076.6,223.6 1076.35,224.3 1076.1,224.5 1075.85,224.4 1075.6,224.3 1075.35,224.2 1075.1,223.8 1074.85,220.5 1074.6,217.2 1074.35,214 1074.1,212.2 1073.85,212.3 1073.6,212.4 1073.35,212.6 1073.1,212.7 1072.85,222.6 1072.6,232.6 1071.6,232.6 1071.35,227.1 1071.1,217.1 1070.85,214.4 1070.6,214.4 1070.35,214.5 1070.1,230.9 1069.85,244.1 1068.6,244.1 1068.35,210.1 1068.1,202.5 1067.85,202.5 1067.6,203.9 1067.35,216.4 1067.1,225.2 1066.85,225 1066.6,224.9 1066.35,224.8 1066.1,224.7 1065.85,222.7 1065.6,220.2 1065.35,217.7 1065.1,215.5 1063.85,215.5 1063.6,216.6 1063.35,218.1 1063.1,219.7 1062.1,219.7 1061.85,219.4 1061.6,218.6 1061.35,217.8 1061.1,217 1060.85,216.2 1060.6,212 1060.35,207.2 1060.1,218.3 1059.85,240.1 1059.6,244.8 1058.6,244.8 1058.35,228.8 1058.1,226.2 1057.85,226 1057.6,225.9 1057.35,225 1057.1,221.7 1056.85,218.5 1056.6,215.5 1056.35,215.1 1056.1,214.7 1055.85,214.3 1055.6,213.8 1055.35,213.4 1055.1,213 1054.85,212.4 1054.6,211.4 1054.35,210.4 1054.1,209.4 1053.85,208.4 1053.6,214.5 1053.35,223.2 1053.1,228 1052.1,228 1051.85,223.8 1051.6,214.4 1051.35,211 1050.35,211 1050.1,210.3 1049.85,206.3 1049.6,202.4 1049.35,198.5 1049.1,212.6 1048.85,240.9 1048.6,248.2 1047.6,248.2 1047.35,232.7 1047.1,200.2 1046.6,200.2 1046.35,201.9 1046.1,209.9 1045.85,217.9 1045.6,218.4 1045.1,218.4 1044.85,217.2 1044.6,213.3 1044.35,209.3 1044.1,205.9 1043.85,206.3 1043.6,206.7 1043.35,207.1 1043.1,207.5 1042.85,207.9 1042.6,209.2 1042.35,213.8 1042.1,218.4 1041.85,220.6 1040.85,220.6 1040.6,215 1040.35,209.2 1040.1,204.8 1039.85,205 1039.6,205.2 1039.35,205.4 1039.1,205.6 1038.85,205.8 1038.6,207.2 1038.35,208.9 1038.1,210.4 1037.1,210.4 1036.85,209.3 1036.6,207.3 1036.35,205.2 1036.1,213 1035.85,223.3 1035.6,223.5 1034.6,223.5 1034.35,219.8 1034.1,212.9 1033.85,206.1 1033.6,225.4 1033.35,250.9 1033.1,251.1 1031.85,251.1 1031.6,243.3 1031.35,231.1 1031.1,218.9 1030.85,217.7 1030.6,217.7 1030.35,217.6 1030.1,217.5 1029.85,217.4 1029.6,217.3 1029.35,217.3 1029.1,223.5 1028.85,233.2 1028.6,234.8 1027.6,234.8 1027.35,224.4 1027.1,210.1 1026.85,210 1026.6,209.9 1026.35,213.4 1026.1,218.1 1025.85,218.4 1025.35,218.4 1025.1,216.9 1024.85,211.9 1024.6,211.4 1024.35,211.3 1024.1,211.1 1023.85,211 1023.6,210.8 1023.35,210.7 1023.1,210.5 1022.85,210 1022.6,207.8 1022.35,205.7 1022.1,204.4 1021.85,222.4 1021.6,236.3 1020.35,236.3 1020.1,232 1019.85,218.7 1019.6,209.5 1019.35,204.2 1019.1,200.4 1018.85,201.1 1018.6,201.9 1018.35,202.6 1018.1,203.4 1017.85,204.6 1017.6,206 1017.35,207.3 1017.1,208.7 1016.85,209.9 1015.85,209.9 1015.6,209.4 1015.35,208.6 1015.1,207.9 1014.85,207.1 1014.6,206.5 1014.35,207.3 1014.1,208 1013.85,208.8 1013.6,209.5 1013.35,209.5 1013.1,208.9 1012.85,208.3 1012.6,207.7 1012.35,207 1012.1,208.6 1011.85,210.2 1011.6,211.8 1011.35,212.1 1010.1,212.1 1009.85,210.2 1009.6,208.1 1009.35,206.1 1009.1,204 1008.85,205 1008.6,206.7 1008.35,208.4 1008.1,210.2 1007.85,211.9 1007.6,211.9 1007.35,211.7 1007.1,211.5 1006.85,211.3 1006.6,211.1 1006.35,210.8 1006.1,210.6 1005.85,209.9 1005.6,205.1 1005.35,200.3 1005.1,197.4 1004.35,197.4 1004.1,204.5 1003.85,213.9 1003.6,214.4 1002.85,214.4 1002.6,213.1 1002.35,209.8 1002.1,207 1001.1,207 1000.85,207.6 1000.6,208.6 1000.35,209.5 1000.1,210.5 999.85,211.4 999.6,212.4 999.35,213.1 999.1,213.6 998.85,214.1 998.6,214.6 998.35,215.1 998.1,215.5 997.85,215.2 997.6,215 997.35,214.7 997.1,214.5 996.85,214 996.6,213.3 996.35,212.7 996.1,212.1 995.85,211.5 995.6,211.1 995.35,211.4 995.1,211.7 994.85,212 994.6,212.3 994.35,212.6 994.1,221.2 993.85,231.7 993.6,231.8 992.6,231.8 992.35,227.5 992.1,219.6 991.85,213.8 991.6,213.7 991.35,213.6 991.1,213.6 990.85,213.5 990.6,213.4 990.35,213.3 990.1,212 989.85,209.4 989.6,206.7 989.35,204.1 989.1,205.5 988.85,207.7 988.6,210 988.35,212.2 988.1,214.1 987.85,215.2 987.6,216.3 987.35,217.3 987.1,217.3 986.85,217.4 986.6,217.5 986.35,217.6 986.1,217.7 985.85,217.8 985.6,217.8 985.35,217.7 985.1,217.6 984.85,217.5 984.6,217.4 984.35,217.3 984.1,218.8 983.85,220.7 983.6,222.3 982.35,222.3 982.1,221.3 981.85,219.7 981.6,218.2 981.35,216.3 981.1,208.2 980.85,201.9 980.6,201.7 980.35,201.6 980.1,201.4 979.85,200.4 979.6,200.6 979.35,200.9 979.1,201.2 978.85,205.8 978.6,215.3 978.35,222.9 977.1,222.9 976.85,212.3 976.6,203.8 976.35,204.2 976.1,204.6 975.85,205 975.6,205.4 975.35,205.9 975.1,206.1 974.85,206.3 974.6,206.5 974.35,206.7 974.1,206.9 973.85,209.3 973.6,214 973.35,215.5 972.35,215.5 972.1,214.7 971.85,210.9 971.6,207.2 971.35,206.5 971.1,206 970.85,205.5 970.6,205 970.35,204.9 970.1,205.1 969.85,205.4 969.6,205.6 969.35,205.9 969.1,207.4 968.85,209.1 968.6,210.9 968.35,212.6 968.1,214.3 967.85,216.1 967.6,217 967.35,217.9 967.1,218.8 966.85,219 966.6,219.1 966.35,219.2 966.1,219.3 965.85,219.4 965.6,219.5 965.35,224.5 965.1,229.7 963.85,229.7 963.6,220.7 963.35,206.3 963.1,201.6 962.85,199.1 962.6,196.6 962.35,195.9 962.1,196.1 961.85,196.4 961.6,196.7 961.35,209.5 961.1,232.6 960.85,238.8 959.85,238.8 959.6,234.1 959.35,217.6 959.1,201.4 958.85,201.7 958.6,202.1 958.35,202.5 958.1,202.9 957.85,203 957.6,202.9 957.35,202.8 957.1,202.8 956.85,202.7 956.6,202.6 956.35,202.5 956.1,204.3 955.85,207.1 955.6,208.7 954.35,208.7 954.1,207.4 953.85,204.7 953.6,202.1 953.35,199.2 953.1,196 952.85,192.8 952.6,190.3 952.35,192.1 952.1,194 951.85,195.9 951.6,198.2 951.35,201 951.1,203.8 950.85,206.7 950.6,207.6 950.35,208.2 950.1,208.8 949.85,209.4 949.6,210.1 949.35,210.5 949.1,210.8 948.85,211 948.6,211.3 948.35,211.5 948.1,215 947.85,218.9 947.6,220.4 946.6,220.4 946.35,220.2 946.1,219.9 945.85,219.7 945.6,225.1 945.35,237.9 945.1,242.8 944.1,242.8 943.85,237.7 943.6,208.1 943.35,202.5 942.85,202.5 942.6,203 942.35,206 942.1,209 941.85,209.6 941.6,210 941.35,210.4 941.1,210.8 940.85,213.9 940.6,221.9 940.35,229.2 939.1,229.2 938.85,225.2 938.6,219.2 938.35,213.1 938.1,216.5 937.85,220.1 937.6,220 937.35,219.9 937.1,219.8 936.85,219.7 936.6,219.6 936.35,219.4 936.1,219.1 935.85,218.8 935.6,218.4 935.35,218.1 935.1,217.8 934.85,217.4 934.6,214.1 934.35,206.1 934.1,199.1 933.35,199.1 933.1,204 932.85,209.2 932.6,213.3 932.35,213.4 932.1,213.5 931.85,213.6 931.6,213.7 931.35,213.8 931.1,215.9 930.85,218.6 930.6,221.2 930.35,223.5 929.1,223.5 928.85,221.4 928.6,218.4 928.35,215.4 928.1,212.4 927.85,209.8 927.6,209.7 927.35,209.6 927.1,209.5 926.85,209.4 926.6,209.3 926.35,210 926.1,210.9 925.85,211.8 925.6,212.8 925.35,214.7 925.1,216.6 924.85,218.5 924.6,220.3 924.35,221.2 924.1,221.1 923.85,221 923.6,220.8 923.35,220.7 923.1,220.7 922.85,221.9 922.6,223.1 922.35,223.8 921.1,223.8 920.85,223 920.6,222 920.35,221.1 920.1,220.1 919.85,219.1 919.6,218.1 919.35,217.1 919.1,216.1 918.85,215.1 918.6,214.1 918.35,213.1 918.1,211.9 917.85,210.4 917.6,208.9 917.35,207.4 917.1,205.9 916.85,206.3 916.6,206.6 916.35,207 916.1,207.4 915.85,207.6 915.6,207.8 915.35,207.9 915.1,208 914.85,208.1 914.6,217.8 914.35,237.4 914.1,243.9 913.1,243.9 912.85,241.5 912.6,230.5 912.35,219.6 912.1,208.7 911.85,204.2 911.6,204.4 911.35,204.5 911.1,204.6 910.85,204.7 910.6,207.1 910.35,223.3 910.1,234.3 909.1,234.3 908.85,226.5 908.6,203.2 908.35,202.2 908.1,202 907.85,201.7 907.6,201.5 907.35,201.2 907.1,200.9 906.85,200.6 906.6,200.3 906.35,200.2 905.6,200.2 905.35,200.8 905.1,203 904.85,205.3 904.6,207.5 904.35,209.8 904.1,216 903.85,223.7 903.6,228 902.6,228 902.35,223.7 902.1,215 901.85,214.8 901.6,214.6 901.35,214.5 901.1,212.9 900.85,209.5 900.6,206.1 900.35,202.7 900.1,199.4 899.85,198.8 899.6,198.5 899.35,198.3 899.1,198 898.85,203.7 898.6,210.4 898.1,210.4 897.85,211.5 897.6,215.3 897.35,217.2 896.35,217.2 896.1,214.6 895.85,212.1 895.6,212 895.35,212 895.1,211.9 894.85,211.8 894.6,211.7 894.35,211.7 894.1,211.6 893.85,213.9 893.6,216.7 893.35,217.8 892.35,217.8 892.1,216.6 891.85,207.3 891.6,198.1 891.35,196.8 890.85,196.8 890.6,197 890.35,198 890.1,199 889.85,200 889.6,201 889.35,201.6 889.1,202.1 888.85,202.5 888.6,202.9 888.35,203.3 888.1,203.6 886.6,203.6 886.35,203 886.1,201.7 885.85,200.3 885.6,198.9 885.35,197.6 885.1,201.6 884.85,212.6 884.6,216.7 883.85,216.7 883.6,215 883.35,197.9 882.85,197.9 882.6,200.1 882.35,204.7 882.1,206.5 881.35,206.5 881.1,196.5Z" fill="#191919" stroke="#191919" stroke-width="0.35" stroke-linejoin="miter"/>
<path d="M869.6 23.6 V309.9" fill="none" stroke="#4d4d4d" stroke-width="1.5"/>
<path d="M868.85 309.9 H1188.8" fill="none" stroke="#565656" stroke-width="1.9"/>
<line x1="862.3000000000001" x2="869.6" y1="34.50" y2="34.50" stroke="#565656" stroke-width="1.8"/>
<text x="853.9" y="34.5" font-size="10.5" text-anchor="middle" fill="#383838" transform="rotate(-90 853.9 34.5)">10</text>
<line x1="862.3000000000001" x2="869.6" y1="100.50" y2="100.50" stroke="#565656" stroke-width="1.8"/>
<text x="853.9" y="100.5" font-size="10.5" text-anchor="middle" fill="#383838" transform="rotate(-90 853.9 100.5)">5</text>
<line x1="862.3000000000001" x2="869.6" y1="166.50" y2="166.50" stroke="#565656" stroke-width="1.8"/>
<text x="853.9" y="166.5" font-size="10.5" text-anchor="middle" fill="#383838" transform="rotate(-90 853.9 166.5)">0</text>
<line x1="862.3000000000001" x2="869.6" y1="232.50" y2="232.50" stroke="#565656" stroke-width="1.8"/>
<text x="853.9" y="232.5" font-size="10.5" text-anchor="middle" fill="#383838" transform="rotate(-90 853.9 232.5)">-5</text>
<line x1="862.3000000000001" x2="869.6" y1="298.50" y2="298.50" stroke="#565656" stroke-width="1.8"/>
<text x="853.9" y="298.5" font-size="10.5" text-anchor="middle" fill="#383838" transform="rotate(-90 853.9 298.5)">-10</text>
<line x1="883.3" x2="883.3" y1="309.9" y2="317.2" stroke="#4d4d4d" stroke-width="1.5"/>
<text x="883.0999999999999" y="331.3" font-size="11" text-anchor="middle" fill="#383838">30<tspan dx="1.15">/</tspan><tspan dx="1.15">6</tspan><tspan dx="1.15">/</tspan><tspan dx="1.15">2011</tspan></text>
<line x1="949.4" x2="949.4" y1="309.9" y2="317.2" stroke="#4d4d4d" stroke-width="1.5"/>
<text x="949.1999999999999" y="331.3" font-size="11" text-anchor="middle" fill="#383838">31<tspan dx="1.15">/</tspan><tspan dx="1.15">12</tspan><tspan dx="1.15">/</tspan><tspan dx="1.15">2011</tspan></text>
<line x1="1015.5" x2="1015.5" y1="309.9" y2="317.2" stroke="#4d4d4d" stroke-width="1.5"/>
<text x="1015.3" y="331.3" font-size="11" text-anchor="middle" fill="#383838">30<tspan dx="1.15">/</tspan><tspan dx="1.15">6</tspan><tspan dx="1.15">/</tspan><tspan dx="1.15">2012</tspan></text>
<line x1="1081.5" x2="1081.5" y1="309.9" y2="317.2" stroke="#4d4d4d" stroke-width="1.5"/>
<text x="1081.3" y="331.3" font-size="11" text-anchor="middle" fill="#383838">31<tspan dx="1.15">/</tspan><tspan dx="1.15">12</tspan><tspan dx="1.15">/</tspan><tspan dx="1.15">2012</tspan></text>
<line x1="1147.5" x2="1147.5" y1="309.9" y2="317.2" stroke="#4d4d4d" stroke-width="1.5"/>
<text x="1147.3" y="331.3" font-size="11" text-anchor="middle" fill="#383838">30<tspan dx="1.15">/</tspan><tspan dx="1.15">6</tspan><tspan dx="1.15">/</tspan><tspan dx="1.15">2013</tspan></text>
<text x="1029.35" y="11.7" font-size="14.5" text-anchor="middle" fill="#383838" textLength="281.8" lengthAdjust="spacingAndGlyphs">Panel C: Excess Buy-Sell Volume Imbalance</text>
<text x="833.9" y="165.7" font-size="14.5" text-anchor="middle" fill="#383838" textLength="148" lengthAdjust="spacingAndGlyphs" transform="rotate(-90 833.9 165.7)">Excess Trading Volume</text>
<line x1="42.0" x2="366.8" y1="649.65" y2="649.65" stroke="#f0f0f0" stroke-width="1.7"/>
<line x1="42.0" x2="366.8" y1="595.15" y2="595.15" stroke="#f0f0f0" stroke-width="1.7"/>
<line x1="42.0" x2="366.8" y1="540.65" y2="540.65" stroke="#f0f0f0" stroke-width="1.7"/>
<line x1="42.0" x2="366.8" y1="486.15" y2="486.15" stroke="#f0f0f0" stroke-width="1.7"/>
<line x1="42.0" x2="366.8" y1="431.65" y2="431.65" stroke="#f0f0f0" stroke-width="1.7"/>
<polyline points="54.4,649.0 65.8,648.4 73.2,648.8 85.2,647.7 97.2,647.3 109.1,645.3 114.7,644.7 121.1,642.7 127.6,639.0 134.0,634.4 140.5,628.5 146.0,622.0 151.5,611.9 158.0,595.3 162.6,579.6 167.2,559.4 170.0,545.0 176.2,507.5 182.5,471.2 188.0,450.0 195.0,426.2 201.7,413.0 207.5,414.0 213.7,435.0 218.7,461.2 225.0,500.0 232.0,535.0 237.8,554.7 245.2,575.0 249.8,591.6 256.8,610.0 263.6,618.4 270.0,626.7 276.0,633.1 282.0,637.3 287.6,640.1 294.0,641.6 300.5,643.6 307.0,645.1 318.0,646.4 329.0,647.1 336.4,648.0 342.0,647.7 348.4,648.2 354.5,649.0" fill="none" stroke="#191919" stroke-width="1.5" stroke-linejoin="round" stroke-linecap="round"/>
<path d="M42.0 401.6 V660.8" fill="none" stroke="#4d4d4d" stroke-width="1.5"/>
<path d="M41.25 660.8 H366.8" fill="none" stroke="#565656" stroke-width="1.9"/>
<line x1="34.7" x2="42.0" y1="649.65" y2="649.65" stroke="#565656" stroke-width="1.8"/>
<text x="27.2" y="649.65" font-size="10.5" text-anchor="middle" fill="#383838" transform="rotate(-90 27.2 649.65)">0</text>
<line x1="34.7" x2="42.0" y1="595.15" y2="595.15" stroke="#565656" stroke-width="1.8"/>
<text x="27.2" y="595.15" font-size="10.5" text-anchor="middle" fill="#383838" transform="rotate(-90 27.2 595.15)">.1</text>
<line x1="34.7" x2="42.0" y1="540.65" y2="540.65" stroke="#565656" stroke-width="1.8"/>
<text x="27.2" y="540.65" font-size="10.5" text-anchor="middle" fill="#383838" transform="rotate(-90 27.2 540.65)">.2</text>
<line x1="34.7" x2="42.0" y1="486.15" y2="486.15" stroke="#565656" stroke-width="1.8"/>
<text x="27.2" y="486.15" font-size="10.5" text-anchor="middle" fill="#383838" transform="rotate(-90 27.2 486.15)">.3</text>
<line x1="34.7" x2="42.0" y1="431.65" y2="431.65" stroke="#565656" stroke-width="1.8"/>
<text x="27.2" y="431.65" font-size="10.5" text-anchor="middle" fill="#383838" transform="rotate(-90 27.2 431.65)">.4</text>
<line x1="54.70" x2="54.70" y1="660.8" y2="668.3" stroke="#4d4d4d" stroke-width="1.5"/>
<text x="54.7" y="682.3" font-size="10.5" text-anchor="middle" fill="#383838">-5</text>
<line x1="84.50" x2="84.50" y1="660.8" y2="668.3" stroke="#4d4d4d" stroke-width="1.5"/>
<text x="84.5" y="682.3" font-size="10.5" text-anchor="middle" fill="#383838">-4</text>
<line x1="114.30" x2="114.30" y1="660.8" y2="668.3" stroke="#4d4d4d" stroke-width="1.5"/>
<text x="114.3" y="682.3" font-size="10.5" text-anchor="middle" fill="#383838">-3</text>
<line x1="144.10" x2="144.10" y1="660.8" y2="668.3" stroke="#4d4d4d" stroke-width="1.5"/>
<text x="144.1" y="682.3" font-size="10.5" text-anchor="middle" fill="#383838">-2</text>
<line x1="173.90" x2="173.90" y1="660.8" y2="668.3" stroke="#4d4d4d" stroke-width="1.5"/>
<text x="173.9" y="682.3" font-size="10.5" text-anchor="middle" fill="#383838">-1</text>
<line x1="203.70" x2="203.70" y1="660.8" y2="668.3" stroke="#4d4d4d" stroke-width="1.5"/>
<text x="203.7" y="682.3" font-size="10.5" text-anchor="middle" fill="#383838">0</text>
<line x1="233.50" x2="233.50" y1="660.8" y2="668.3" stroke="#4d4d4d" stroke-width="1.5"/>
<text x="233.5" y="682.3" font-size="10.5" text-anchor="middle" fill="#383838">1</text>
<line x1="263.30" x2="263.30" y1="660.8" y2="668.3" stroke="#4d4d4d" stroke-width="1.5"/>
<text x="263.3" y="682.3" font-size="10.5" text-anchor="middle" fill="#383838">2</text>
<line x1="293.10" x2="293.10" y1="660.8" y2="668.3" stroke="#4d4d4d" stroke-width="1.5"/>
<text x="293.1" y="682.3" font-size="10.5" text-anchor="middle" fill="#383838">3</text>
<line x1="322.90" x2="322.90" y1="660.8" y2="668.3" stroke="#4d4d4d" stroke-width="1.5"/>
<text x="322.9" y="682.3" font-size="10.5" text-anchor="middle" fill="#383838">4</text>
<line x1="352.70" x2="352.70" y1="660.8" y2="668.3" stroke="#4d4d4d" stroke-width="1.5"/>
<text x="352.7" y="682.3" font-size="10.5" text-anchor="middle" fill="#383838">5</text>
<text x="204.25" y="390.1" font-size="14.5" text-anchor="middle" fill="#383838" textLength="325.0" lengthAdjust="spacingAndGlyphs">Panel D: Density of Excess Buyer-Initiated Volume</text>
<text x="204.4" y="700.9" font-size="14.5" text-anchor="middle" fill="#383838" textLength="148.8" lengthAdjust="spacingAndGlyphs">Excess Trading Volume</text>
<text x="11.3" y="531.2" font-size="14.5" text-anchor="middle" fill="#383838" textLength="47.2" lengthAdjust="spacingAndGlyphs" transform="rotate(-90 11.3 531.2)">Density</text>
<line x1="453.8" x2="777.7" y1="649.45" y2="649.45" stroke="#f0f0f0" stroke-width="1.7"/>
<line x1="453.8" x2="777.7" y1="593.65" y2="593.65" stroke="#f0f0f0" stroke-width="1.7"/>
<line x1="453.8" x2="777.7" y1="537.85" y2="537.85" stroke="#f0f0f0" stroke-width="1.7"/>
<line x1="453.8" x2="777.7" y1="482.05" y2="482.05" stroke="#f0f0f0" stroke-width="1.7"/>
<line x1="453.8" x2="777.7" y1="426.25" y2="426.25" stroke="#f0f0f0" stroke-width="1.7"/>
<polyline points="465.5,649.2 482.5,649.2 500.0,648.5 510.0,648.0 521.2,647.2 527.5,645.5 532.5,642.7 538.7,640.7 545.5,638.5 551.2,631.5 557.5,620.2 563.7,607.7 570.0,591.5 575.0,576.5 580.0,559.0 585.0,529.5 587.0,517.7 593.2,481.2 599.5,448.7 606.2,425.5 612.5,416.0 619.2,413.0 624.5,430.0 630.7,458.7 636.2,482.5 642.5,520.0 648.7,546.2 654.1,564.0 661.5,587.9 667.9,602.7 674.4,614.7 680.8,623.9 686.4,629.8 693.7,634.4 703.9,641.0 712.2,644.2 721.4,646.4 730.6,646.9 741.7,648.2 752.7,648.4 760.1,649.0 765.6,649.0" fill="none" stroke="#191919" stroke-width="1.5" stroke-linejoin="round" stroke-linecap="round"/>
<path d="M453.8 401.6 V660.8" fill="none" stroke="#4d4d4d" stroke-width="1.5"/>
<path d="M453.05 660.8 H777.7" fill="none" stroke="#565656" stroke-width="1.9"/>
<line x1="446.5" x2="453.8" y1="649.45" y2="649.45" stroke="#565656" stroke-width="1.8"/>
<text x="438.5" y="649.45" font-size="10.5" text-anchor="middle" fill="#383838" transform="rotate(-90 438.5 649.45)">0</text>
<line x1="446.5" x2="453.8" y1="593.65" y2="593.65" stroke="#565656" stroke-width="1.8"/>
<text x="438.5" y="593.65" font-size="10.5" text-anchor="middle" fill="#383838" transform="rotate(-90 438.5 593.65)">.1</text>
<line x1="446.5" x2="453.8" y1="537.85" y2="537.85" stroke="#565656" stroke-width="1.8"/>
<text x="438.5" y="537.85" font-size="10.5" text-anchor="middle" fill="#383838" transform="rotate(-90 438.5 537.85)">.2</text>
<line x1="446.5" x2="453.8" y1="482.05" y2="482.05" stroke="#565656" stroke-width="1.8"/>
<text x="438.5" y="482.05" font-size="10.5" text-anchor="middle" fill="#383838" transform="rotate(-90 438.5 482.05)">.3</text>
<line x1="446.5" x2="453.8" y1="426.25" y2="426.25" stroke="#565656" stroke-width="1.8"/>
<text x="438.5" y="426.25" font-size="10.5" text-anchor="middle" fill="#383838" transform="rotate(-90 438.5 426.25)">.4</text>
<line x1="469.00" x2="469.00" y1="660.8" y2="668.3" stroke="#4d4d4d" stroke-width="1.5"/>
<text x="469.0" y="682.3" font-size="10.5" text-anchor="middle" fill="#383838">-5</text>
<line x1="498.40" x2="498.40" y1="660.8" y2="668.3" stroke="#4d4d4d" stroke-width="1.5"/>
<text x="498.4" y="682.3" font-size="10.5" text-anchor="middle" fill="#383838">-4</text>
<line x1="527.80" x2="527.80" y1="660.8" y2="668.3" stroke="#4d4d4d" stroke-width="1.5"/>
<text x="527.8" y="682.3" font-size="10.5" text-anchor="middle" fill="#383838">-3</text>
<line x1="557.20" x2="557.20" y1="660.8" y2="668.3" stroke="#4d4d4d" stroke-width="1.5"/>
<text x="557.2" y="682.3" font-size="10.5" text-anchor="middle" fill="#383838">-2</text>
<line x1="586.60" x2="586.60" y1="660.8" y2="668.3" stroke="#4d4d4d" stroke-width="1.5"/>
<text x="586.6" y="682.3" font-size="10.5" text-anchor="middle" fill="#383838">-1</text>
<line x1="616.00" x2="616.00" y1="660.8" y2="668.3" stroke="#4d4d4d" stroke-width="1.5"/>
<text x="616.0" y="682.3" font-size="10.5" text-anchor="middle" fill="#383838">0</text>
<line x1="645.40" x2="645.40" y1="660.8" y2="668.3" stroke="#4d4d4d" stroke-width="1.5"/>
<text x="645.4" y="682.3" font-size="10.5" text-anchor="middle" fill="#383838">1</text>
<line x1="674.80" x2="674.80" y1="660.8" y2="668.3" stroke="#4d4d4d" stroke-width="1.5"/>
<text x="674.8" y="682.3" font-size="10.5" text-anchor="middle" fill="#383838">2</text>
<line x1="704.20" x2="704.20" y1="660.8" y2="668.3" stroke="#4d4d4d" stroke-width="1.5"/>
<text x="704.2" y="682.3" font-size="10.5" text-anchor="middle" fill="#383838">3</text>
<line x1="733.60" x2="733.60" y1="660.8" y2="668.3" stroke="#4d4d4d" stroke-width="1.5"/>
<text x="733.6" y="682.3" font-size="10.5" text-anchor="middle" fill="#383838">4</text>
<line x1="763.00" x2="763.00" y1="660.8" y2="668.3" stroke="#4d4d4d" stroke-width="1.5"/>
<text x="763.0" y="682.3" font-size="10.5" text-anchor="middle" fill="#383838">5</text>
<text x="616.0" y="390.1" font-size="14.5" text-anchor="middle" fill="#383838" textLength="321.5" lengthAdjust="spacingAndGlyphs">Panel E: Density of Excess Seller-Initiated Volume</text>
<text x="615.8" y="700.9" font-size="14.5" text-anchor="middle" fill="#383838" textLength="148.8" lengthAdjust="spacingAndGlyphs">Excess Trading Volume</text>
<text x="422.7" y="531.2" font-size="14.5" text-anchor="middle" fill="#383838" textLength="47.2" lengthAdjust="spacingAndGlyphs" transform="rotate(-90 422.7 531.2)">Density</text>
<line x1="861.5" x2="1188.7" y1="649.30" y2="649.30" stroke="#f0f0f0" stroke-width="1.7"/>
<line x1="861.5" x2="1188.7" y1="590.20" y2="590.20" stroke="#f0f0f0" stroke-width="1.7"/>
<line x1="861.5" x2="1188.7" y1="531.10" y2="531.10" stroke="#f0f0f0" stroke-width="1.7"/>
<line x1="861.5" x2="1188.7" y1="472.00" y2="472.00" stroke="#f0f0f0" stroke-width="1.7"/>
<line x1="861.5" x2="1188.7" y1="412.90" y2="412.90" stroke="#f0f0f0" stroke-width="1.7"/>
<polyline points="873.2,649.2 890.0,648.0 907.5,645.5 928.7,640.7 936.2,636.5 945.0,629.0 952.5,621.5 958.7,612.7 965.0,601.5 972.5,586.5 978.7,571.5 985.0,553.7 990.7,533.7 997.0,512.5 1003.2,490.0 1009.5,470.7 1015.7,457.0 1022.0,446.5 1028.2,442.0 1034.5,452.0 1040.7,472.5 1046.2,490.0 1052.5,510.0 1058.7,536.2 1065.0,557.5 1070.9,574.1 1077.0,589.4 1083.5,600.8 1089.9,610.1 1096.4,621.1 1102.5,629.8 1108.9,634.8 1114.8,636.8 1121.3,640.1 1127.3,642.0 1134.2,643.1 1146.2,646.0 1159.1,647.1 1176.6,649.0" fill="none" stroke="#191919" stroke-width="1.5" stroke-linejoin="round" stroke-linecap="round"/>
<path d="M861.5 401.6 V660.8" fill="none" stroke="#4d4d4d" stroke-width="1.5"/>
<path d="M860.75 660.8 H1188.7" fill="none" stroke="#565656" stroke-width="1.9"/>
<line x1="854.2" x2="861.5" y1="649.30" y2="649.30" stroke="#565656" stroke-width="1.8"/>
<text x="846.8" y="649.3" font-size="10.5" text-anchor="middle" fill="#383838" transform="rotate(-90 846.8 649.3)">0</text>
<line x1="854.2" x2="861.5" y1="590.20" y2="590.20" stroke="#565656" stroke-width="1.8"/>
<text x="846.8" y="590.2" font-size="10.5" text-anchor="middle" fill="#383838" transform="rotate(-90 846.8 590.2)">.1</text>
<line x1="854.2" x2="861.5" y1="531.10" y2="531.10" stroke="#565656" stroke-width="1.8"/>
<text x="846.8" y="531.1" font-size="10.5" text-anchor="middle" fill="#383838" transform="rotate(-90 846.8 531.1)">.2</text>
<line x1="854.2" x2="861.5" y1="472.00" y2="472.00" stroke="#565656" stroke-width="1.8"/>
<text x="846.8" y="472.0" font-size="10.5" text-anchor="middle" fill="#383838" transform="rotate(-90 846.8 472.0)">.3</text>
<line x1="854.2" x2="861.5" y1="412.90" y2="412.90" stroke="#565656" stroke-width="1.8"/>
<text x="846.8" y="412.9" font-size="10.5" text-anchor="middle" fill="#383838" transform="rotate(-90 846.8 412.9)">.4</text>
<line x1="876.35" x2="876.35" y1="660.8" y2="668.3" stroke="#4d4d4d" stroke-width="1.5"/>
<text x="876.35" y="682.3" font-size="10.5" text-anchor="middle" fill="#383838">-5</text>
<line x1="906.02" x2="906.02" y1="660.8" y2="668.3" stroke="#4d4d4d" stroke-width="1.5"/>
<text x="906.02" y="682.3" font-size="10.5" text-anchor="middle" fill="#383838">-4</text>
<line x1="935.69" x2="935.69" y1="660.8" y2="668.3" stroke="#4d4d4d" stroke-width="1.5"/>
<text x="935.69" y="682.3" font-size="10.5" text-anchor="middle" fill="#383838">-3</text>
<line x1="965.36" x2="965.36" y1="660.8" y2="668.3" stroke="#4d4d4d" stroke-width="1.5"/>
<text x="965.36" y="682.3" font-size="10.5" text-anchor="middle" fill="#383838">-2</text>
<line x1="995.03" x2="995.03" y1="660.8" y2="668.3" stroke="#4d4d4d" stroke-width="1.5"/>
<text x="995.03" y="682.3" font-size="10.5" text-anchor="middle" fill="#383838">-1</text>
<line x1="1024.70" x2="1024.70" y1="660.8" y2="668.3" stroke="#4d4d4d" stroke-width="1.5"/>
<text x="1024.7" y="682.3" font-size="10.5" text-anchor="middle" fill="#383838">0</text>
<line x1="1054.37" x2="1054.37" y1="660.8" y2="668.3" stroke="#4d4d4d" stroke-width="1.5"/>
<text x="1054.37" y="682.3" font-size="10.5" text-anchor="middle" fill="#383838">1</text>
<line x1="1084.04" x2="1084.04" y1="660.8" y2="668.3" stroke="#4d4d4d" stroke-width="1.5"/>
<text x="1084.04" y="682.3" font-size="10.5" text-anchor="middle" fill="#383838">2</text>
<line x1="1113.71" x2="1113.71" y1="660.8" y2="668.3" stroke="#4d4d4d" stroke-width="1.5"/>
<text x="1113.71" y="682.3" font-size="10.5" text-anchor="middle" fill="#383838">3</text>
<line x1="1143.38" x2="1143.38" y1="660.8" y2="668.3" stroke="#4d4d4d" stroke-width="1.5"/>
<text x="1143.38" y="682.3" font-size="10.5" text-anchor="middle" fill="#383838">4</text>
<line x1="1173.05" x2="1173.05" y1="660.8" y2="668.3" stroke="#4d4d4d" stroke-width="1.5"/>
<text x="1173.05" y="682.3" font-size="10.5" text-anchor="middle" fill="#383838">5</text>
<text x="1025.0" y="390.1" font-size="14.5" text-anchor="middle" fill="#383838" textLength="349.5" lengthAdjust="spacingAndGlyphs">Panel F: Density of Excess Buy-Sell Volume Imbalance</text>
<text x="1025.1" y="700.9" font-size="14.5" text-anchor="middle" fill="#383838" textLength="148.8" lengthAdjust="spacingAndGlyphs">Excess Trading Volume</text>
<text x="834.2" y="531.2" font-size="14.5" text-anchor="middle" fill="#383838" textLength="47.2" lengthAdjust="spacingAndGlyphs" transform="rotate(-90 834.2 531.2)">Density</text>
</svg>
</body></html>
